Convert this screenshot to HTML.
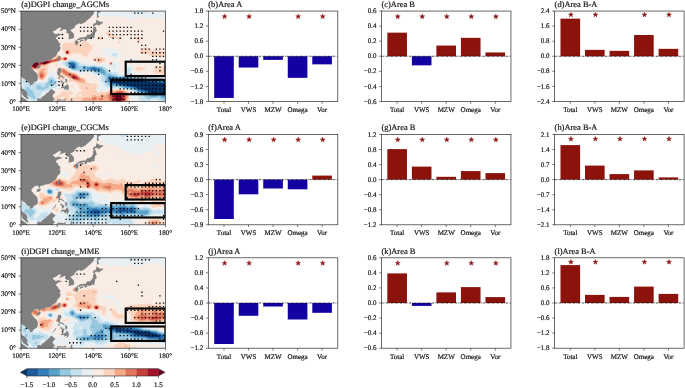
<!DOCTYPE html>
<html><head><meta charset="utf-8"><title>DGPI change</title>
<style>html,body{margin:0;padding:0;background:#fff;overflow:hidden}svg{display:block;will-change:transform;opacity:0.999}</style>
</head><body>
<svg width="685" height="388" viewBox="0 0 685 388" font-family='"Liberation Serif", serif' fill="#111" text-rendering="geometricPrecision" stroke="none">
<defs>
<clipPath id="clip0"><rect x="21" y="11.05" width="144.4" height="90.4"/></clipPath>
<clipPath id="clip1"><rect x="21" y="134.4" width="144.4" height="90.4"/></clipPath>
<clipPath id="clip2"><rect x="21" y="257.8" width="144.4" height="90.4"/></clipPath>
</defs>
<rect width="685" height="388" fill="#fff"/>
<text x="21.3" y="6.95" font-size="8.45" text-anchor="start" stroke="#111" stroke-width="0.18" >(a)DGPI change_AGCMs</text>
<g clip-path="url(#clip0)">
<rect x="20" y="10.2" width="146.4" height="92.2" fill="#e8f0f4"/>
<path d="M21,101.5L22.8,101.4L28.6,101.5L24.6,98.1L23.7,98.1L21.9,98.4L21,98.1ZM39.2,101.5L49.3,101.5L49.9,100.3L50.4,101.5L137.9,101.5L137.4,100.2L136.5,99.1L133.8,98.5L131.1,98.7L130.6,97.8L131.5,95.1L133,94.2L133.5,93.3L133.1,92.4L131.6,91.5L123.9,89.3L120.3,88.6L114.9,89L109.4,88.7L106.7,90.4L104,90.6L102.2,89.4L99.5,90.7L98.6,90.7L98,88.8L99,87L99.4,84.3L98.4,82.5L97.8,79.8L96,77.1L94.9,76.2L93.2,75.5L91.4,75.6L90.6,75.3L90.8,73.5L90.5,73.2L87.8,73.3L86,72.8L84.2,73.1L83.7,73.5L83.3,74.5L80.6,75.1L79.7,74.6L78.8,73.3L76.1,72L71.5,71.5L70.6,71L65.2,67.3L59.8,64.6L59.3,63.5L59.4,62.6L62.5,61.2L66.1,61.1L69.7,58.2L71.5,57.9L72.4,58L75.2,59.7L80.6,60.3L83.3,62.2L85.1,62.2L86.9,60.6L88.7,60.5L89.1,60.8L88.4,63.5L89.6,64.2L91.4,64.1L93.2,63.2L94.1,63.3L96.8,64.7L98.6,65L101.3,64.8L103.1,63.7L105.8,63.1L107.6,63.2L108.5,63.9L109.4,65.3L111.2,66.6L112.8,64.4L113,63.5L112.4,60.8L116.7,60.5L120.7,63.5L120.7,64.4L120.3,65.3L120.3,67.3L118.5,69L118.4,69.9L119.1,70.8L119.1,72.6L120.3,73.6L121.5,73.5L123.9,71.9L125.7,67.4L130.2,64.6L132,65.8L133.9,66.3L134.1,67.2L133.5,69L133.5,69.9L134.1,72.6L134.7,72.8L138.3,73.8L141.9,73.1L143.7,74.7L147.3,76.2L153.7,75.2L157.3,76L158.2,75.7L160,76.7L160.9,76.7L162.7,76.4L165.4,75.4L165.4,66.6L164.5,65.8L163.7,64.4L163.7,63.5L165.4,61.5L165.4,59.9L164.5,59L165.4,58.4L165.4,27.5L164.9,26.5L165.4,26.2L165.4,17.9L160,19.1L159.1,19L157.3,17.3L156.4,17.3L154.6,18.2L152.8,18.1L151,18.5L149.2,17.9L144.6,17.9L140.2,16.6L139.2,16.6L135.6,18.7L132,19.2L130.2,19.1L123,16.6L120.3,16.8L118.5,15.9L116.7,15.7L111.2,16.2L109.4,17.2L106.7,16.4L105.8,16.6L102.2,16.4L96.8,15.1L90.5,16.2L89.1,15.7L88.7,13.9L87.1,13L86.8,11.2L21,11.2L21,66.3L21.9,66.3L22.8,64.5L24.6,64.3L28.2,60.7L29.1,61.2L29.2,61.7L28.8,64.4L27.3,67.8L26.4,68.2L23.7,68.7L22.8,69.6L21.9,71.2L21,71.7L21,76.7L21.9,75.9L23.9,75.3L25.5,74L28.9,72.6L29.1,71.7L28.2,69.9L29.1,69.4L30,70.1L30.9,71.7L31.8,75.4L33.3,78.9L35.4,79.3L37.2,80.5L39,80.7L40.9,81.4L45.4,80.9L46.3,80.4L46.6,79.8L46.6,78L47.8,76.2L49.4,72.6L49.9,70.3L50.8,69.9L52.6,72.4L55.3,72.9L55.6,73.5L55.3,76.2L55.5,77.1L57.1,78.1L59.2,80.7L58.6,82.5L59.6,85.2L59.4,86.1L58,88.8L56.2,89.7L54.4,89.9L53.5,90.6L53.5,91.5L54.2,93.3L53.6,94.2L52.6,94.7L50.8,93.9L50.1,94.2L49,96L46.6,95.1L46.9,93.3L45,93.3L44,94.2L44.4,95.1L45.8,96L44.7,97.8L44.2,99.6L43.6,100.2L42.7,100.3L40.9,99.7L40,100.2ZM89.6,80.7L90.5,78.3L91.4,77.9L91.6,78.9L90.5,81.5ZM62.5,56.7L61.9,56.3L61.4,55.4L61.6,54.5L62.5,53.9L64.3,54.2L65.6,55.4L64.7,56.3ZM112.2,57.5L109.4,56.4L106.7,56.7L105.7,56.3L104.5,54.5L103.5,50.9L101.9,50L101.6,49.1L102.2,48.2L103.1,47.9L112.2,49.2L114,49L117.6,49.8L119,50.9L120,52.7L120.6,54.5L121.7,55.4L122.1,56.3L121.2,57.3L119.4,57.1L116.7,58L114,58.1ZM124.8,63.3L123.5,61.7L123.5,60.8L123.9,59.9L124.8,59.2L127.2,59L128.7,59.9L128.9,61.7L128.3,62.6L126.6,63.3ZM130.2,62.7L130,61.7L130.2,61.5L130.4,61.7ZM135.6,64.5L134.7,62.5L132,60.7L130.2,60.4L129.6,59L131.1,58.1L133.8,58.4L135.6,56.7L136.5,56.4L137.4,57L137.9,58.1L137.4,59L135.6,59.5L134.7,58.9L134,59.9L137.4,62.7L138,63.5L138.1,64.4L137.4,64.9ZM146.4,71.2L146.4,70.5L147.3,69.9L149.2,69.7L149,70.8L147.3,71.3ZM150.1,64L150.1,62.6L151,62.1L151.5,63.5L151,64.3ZM159.1,64L157.3,62.9L154.6,62.9L151.7,60.8L152.3,59.9L154.6,59.1L155.5,59L157.3,59.9L160.9,59.3L161.5,59.9L161.7,60.8L161.2,63.5L160.9,64L160,64.2Z" fill="#f9ece4" fill-rule="evenodd"/>
<path d="M53.3,101.5L57.7,101.5L59.7,99.6L60.3,97.8L62.5,96.5L63,96.9L63.9,98.7L65.9,99.6L65.8,101.5L128.7,101.5L128.9,97.8L130.5,93.3L130.2,92.4L128.8,91.5L123.9,89.9L120.3,89.3L111.2,90.2L109.4,90L107.6,91.7L106.7,92L104,92.1L102.2,91.5L101.3,91.5L98.6,93.1L97.7,92.9L95.7,89.7L95.9,88.8L97.8,86.1L97.7,85.2L96.8,84.2L95,83.5L93.2,84.3L92.1,83.4L87.8,82.7L86.9,81.8L86,79.2L85.1,78.2L80.6,76.9L76.1,73L70.6,71.9L64.3,67.8L59.8,67.3L58.1,68.1L56.5,69.9L56.5,70.8L58.3,74.4L58,75.3L58.9,78.1L59.8,78.9L62.5,80.2L63.6,79.8L64.3,77.8L65.2,77.2L66.1,77.3L67.4,78L68.3,78.9L68.7,79.8L68.4,81.6L68.8,82.2L70.6,82.1L72.4,81.4L76.1,82.5L76.7,84.3L78.8,84.5L79.5,85.2L79.1,87L79.3,87.9L81.6,89.7L82.4,91.5L79.7,91.7L77.9,93.8L75.9,94.2L76.5,96L76.1,96.6L73.3,97L71.5,98.9L70.6,99L69.7,98.6L68.9,96L69.1,95.1L69.7,94.5L71.5,94.7L72.7,94.2L72.8,93.3L71.5,91.7L70.6,90.7L68.8,91.3L68.5,91.5L68.8,92.6L67.9,93L67,92.8L66.7,91.5L66.1,91L64.3,90.9L63.4,91.1L61.6,93.1L60.7,93.3L58,95.5L55.3,96L54.9,97.8ZM78.8,96.6L78.1,96L78,95.1L78.8,94.2L80.8,94.2L82.1,95.1L81.5,96L80.6,96.7ZM83.3,94.5L82.9,94.2L83.3,93.8L83.6,94.2ZM131,101.5L131.1,101.5L132.3,101.5L132,101ZM71.5,87L72.4,87.4L73.1,87L72.4,86.6L71.5,86.9L71.4,86.1L69.7,85L69.5,86.1ZM94.8,80.7L95,81.5L95.9,81.1L96.1,80.7L95,80.3ZM39.5,79.8L41.8,80.5L44.4,79.8L45,78.9L47.1,75.3L47.6,73.5L47.9,68.1L48.7,66.3L48.6,65.3L49.1,64.4L50.9,63.5L53.5,63L55.3,63.2L55.8,62.6L57.9,61.7L62.5,60.4L64.3,60.8L66.1,60.7L67.3,59.9L67.9,59L68,58.1L67.6,57.2L66.1,56.6L62.5,57.5L61.6,57.1L59.8,55.2L58.9,54.7L56.2,54.9L55.3,55.4L53.6,58.1L52.2,59L48.1,59.6L44.5,58.7L40,60.8L34.5,60.1L31.4,61.7L30.6,62.6L30.2,63.5L29.7,67.2L30.1,68.1L31.8,69.4L37.7,70.8L36.3,73L34.7,74.4L34.6,75.3L36.3,75.4L37.7,78ZM160.6,74.4L163.6,74.5L165.4,74L165.4,68L164.5,67.7L162.7,66L159.1,67.4L157.3,65.6L156.4,65.4L155.5,65.7L155.1,66.3L154.6,69.1L153.6,70.8L153.4,72.6L154.6,73.6L159.1,73.8ZM136.3,69.9L138.3,70.5L140.1,70.4L141.9,69.7L144.6,69.2L145.6,68.1L144.6,67.5L142.8,67.8L139.2,67L137.4,67.1L135.7,68.1L135.5,69ZM55.8,66.3L56.2,66.8L57.3,66.3L57.1,64.9L56.2,64L55.2,64.4ZM109.6,64.4L110.3,65.1L111.2,65.2L112.3,64.4L112.6,63.5L112.4,62.6L111.3,61.8L110.3,61.8L109.5,62.6L109.2,63.5ZM96.7,62.6L97.7,63.2L100.4,63.3L104.9,61.3L105.7,60.8L106,59.9L105.5,59L104,57.8L99.5,56.7L97.7,56.8L94.1,57.6L93.2,58.1L92.8,59L92.9,59.9L93.6,60.8L95.9,61.9ZM84,56.3L86,57.1L86.9,56.8L87.8,55.4L88.2,53.6L91.3,50L92.3,48.2L92.4,46.4L92,45.5L90.5,44.7L88.7,42.8L86.9,41.6L85.1,40.9L84.2,40.9L81.5,42.8L80.6,42.9L78.8,42L75.2,41.8L71.5,42.9L69.7,42.6L66.1,43L62.1,44.6L61.7,45.5L63.1,50.9L65.1,53.6L67,55.1L69.7,55.3L74.2,53.5L79.7,53.4L81.5,53.8L82.4,55.4ZM151.7,56.3L158.2,56.3L160.9,56.9L162.7,56.7L164.2,55.4L164.7,53.6L163.6,52.2L161.8,51.2L157.3,50.3L152.8,50.6L147.3,47.8L145.5,47.3L143.7,47.7L141.9,48.8L140.2,50.9L140.1,52.7L141,53.5L143.7,54L145.5,53.9L148.3,54.2L149.2,54.5ZM93.4,45.5L94.2,45.5L94.5,44.6L94.1,43.9L93.2,44.1L92.9,44.6ZM117.6,42.8L118.5,43.3L119.4,43.4L120.6,42.8L121.3,41.9L120.3,41L119.4,41.1L118,41.9ZM137,41L139.2,41.3L140.1,41L140.8,40.1L140.5,38.3L139.2,37L138.3,36.7L137.4,36.8L136.5,37.5L135.9,39.2L136.1,40.1ZM98,39.2L99.5,39.6L101.3,39.5L102.6,38.3L102.6,37.4L102.2,36.9L100.4,36.3L98.6,36.5L97.6,37.4L97.3,38.3ZM116.9,39.2L118.5,39.6L119.4,39.5L120.4,38.3L120.1,37.4L118.5,36.4L116.7,36.7L115.8,36.3L114,34.9L111.4,33.8L111.2,32.9L110.2,32L107.6,31.9L105.4,32.9L105.6,33.8L107.4,34.7L108.1,35.6L108.3,36.5L109.1,37.4L111.2,38.1L114.9,38Z" fill="#fbd3bc" fill-rule="evenodd"/>
<path d="M81.4,100.5L83.7,101.5L126.9,101.5L128.7,93.3L128.2,92.4L123,90.3L120.3,90L115.8,90.4L114,91.1L109.4,91.9L104.9,95.4L104,95.5L102.2,94.4L101.3,94.5L98.6,96.8L97.7,96.8L95.9,95.4L93.2,94.7L91.9,96.9L90.5,98L89.6,98.1L86,97L84.2,98.3L82.4,98.7L81.6,99.6ZM85.8,88.8L86.9,89.4L87.8,89.1L87.8,87.9L86.9,87.2L85.8,87L85.2,87.9ZM80.1,82.5L83.3,83.1L84.2,82.9L85.1,81.6L85.1,80.7L84.2,79.5L80.6,78.1L75.2,73.7L70.6,72.8L64.3,68.8L62.5,68.5L60.7,68.7L59.8,69L58.9,69.9L59,70.8L60.3,72.6L62.5,73.8L64.3,75.3L67.9,76.7L74.2,80.3ZM39.9,78.9L40.9,79.5L41.8,79.5L43.3,78.9L45.9,75.3L46.2,74.4L45.9,73.5L44.5,72.6L44.1,71.7L45.5,69L45.4,67.6L43.6,68.9L40.9,69.3L38.2,73.5L38.7,77.1ZM33.7,69L36.3,69.3L39.4,68.1L40.7,66.3L41.8,65.6L44.5,65.9L49.9,63.3L52.6,62.5L55.3,62L62.5,59.5L64.3,60.4L66.1,60.4L67.4,59L67.4,58.1L66.3,57.2L65.2,57.1L62.5,58.3L58.9,56.2L57.1,56.8L55.7,58.1L53.8,59L50.4,59.9L44.5,60.2L40,61.4L34.5,60.9L31.6,62.6L31,63.5L30.7,65.3L30.8,67.2L31.4,68.1ZM110.1,64.4L111.2,64.9L112.2,63.8L111.9,62.6L111.2,62.2L109.9,62.6L109.7,63.5ZM99.9,61.7L100.4,61.8L101.3,61.3L102.7,59.9L100.4,58.8L99.5,58.7L98,59L97.2,59.9L97.8,60.8ZM65.7,53.6L67,54.4L67.9,54.4L69.3,53.6L69.6,52.7L69.7,49.7L67.9,49.7L66.1,50.4L65.3,51.8ZM75,43.7L76.1,44.4L77.2,43.7L76.1,43.4Z" fill="#f5a988" fill-rule="evenodd"/>
<path d="M110.1,101.5L125.3,101.5L126.4,97.8L126.3,93.3L125.5,92.4L123.9,91.4L120.3,90.7L116.7,91.4L114.9,92.3L110.3,93.5L108.6,95.1L108.1,97.8L108.3,98.7ZM91.5,99.6L92.3,100.2L93.2,100.2L95.9,99.4L96.5,98.7L95.9,97.5L94.7,96.9L92.1,98.7ZM99,99.6L100.4,100.1L103.1,100L103.3,98.7L102.3,97.8L101.3,97.8L98.7,98.7ZM75,79.8L79.7,80.4L80.6,80.3L80.9,79.8L77.9,76.5L75.2,74.7L69.7,73.2L66.1,71.3L64.3,69.8L62.5,69.5L61.4,69.9L61.2,70.8L61.6,71.2L65.2,74.2L68.8,75.9L71.5,77.9ZM40.4,78L41.8,78.4L42.7,78L44,76.2L44.1,75.3L43.6,74.4L41.8,72L40.9,72.3L39.7,74.4L39.6,76.2ZM32.7,68.1L34.5,68.7L36.3,68.7L38.1,67.5L39.8,65.3L40.9,64.9L44.5,64.7L47.2,64L51.7,62.3L59.8,60L61.1,59L60.7,58.1L58.9,57.1L58,57.4L56.2,58.7L51.7,60.2L45.4,60.6L40,61.9L36.3,61.2L34.5,61.3L32.3,62.6L31.4,64.4L31.5,67.2ZM110.9,64.4L111.4,64.4L112,63.5L111.2,62.5L110.3,62.8L109.9,63.5L110.3,64.2ZM63.9,59.9L65.2,60.3L66.1,60L67,59L66.8,58.1L66.1,57.5L65.2,57.4L63.5,58.1L63,59ZM66.2,53.6L67,54.1L68.5,53.6L69,52.7L68.9,51.8L67.9,50.8L67,50.6L65.6,51.8L65.6,52.7Z" fill="#df755d" fill-rule="evenodd"/>
<path d="M111.9,100.5L113.7,101.5L123.5,101.5L124.3,100.5L125,98.7L124.4,96.9L122.8,95.1L123,93.8L123.4,93.3L122.7,92.4L120.3,91.8L119.4,91.9L115.8,93.1L113.1,95.3L111.2,95.9L111.5,99.6ZM74.8,78.9L77,79.3L78.1,78.9L78.1,78L77.4,77.1L74.2,75.1L72.4,74.8L70.5,75.3L71.8,77.1ZM41.5,77.1L42.7,76.2L42.4,75.3L41.8,74.8L41.2,75.3L40.8,76.2ZM34,68.1L35.4,68.3L36.4,68.1L37.5,67.2L38.6,65.3L40.2,64.4L46.3,63.9L52.6,61.3L55.7,60.8L59.8,59L58.9,58.1L56.2,59.5L52.6,60.6L45.4,61L40,62.3L36.3,61.6L34.5,61.7L32.8,62.6L32.1,63.5L31.8,65.3L32.3,67.2ZM110.2,63.5L111.2,64.2L111.7,63.5L111.2,62.9ZM64.9,59.9L66.1,59.6L66.6,59L66.1,57.9L65.2,57.7L64.1,58.1L63.7,59ZM66.7,53.6L67.9,53.7L68.7,52.7L68.5,51.8L67.9,51.2L67,51.1L66,51.8L65.9,52.7Z" fill="#c53f3d" fill-rule="evenodd"/>
<path d="M114.3,100.5L115.5,101.5L121,101.5L123.4,99.6L123.7,98.7L123.5,97.8L121.7,96L120.3,93.8L119.4,93.3L117.6,93.4L115.7,94.2L113.5,96.9L113,98.7L113.3,99.6ZM75,78L76.4,78L76,77.1L74.2,76.1L73.3,75.9L72.7,76.2ZM33,67.2L35.4,67.8L36.8,67.2L37.8,65.3L40,63.9L45.4,63.7L48.1,63L50.6,61.7L49.9,61.4L46.3,61.2L43.6,61.7L40,63L36.3,61.8L34.5,62L33.3,62.6L32.3,64.4L32.3,66.3ZM110.8,63.5L111.2,63.8L111.4,63.5L111.2,63.3ZM64.1,59L65.2,59.6L66.2,59L65.7,58.1L65.2,58ZM66.2,52.7L67,53.6L67.9,53.3L68.4,52.7L67.9,51.6L67,51.3L66.4,51.8Z" fill="#a11228" fill-rule="evenodd"/>
<path d="M117.5,101.5L119.8,101.5L121.1,99.6L122.3,98.7L122.1,97.8L121.2,96.9L117.6,95.1L116.7,95.5L115,97.8L114.8,98.7L115.6,99.6L116.7,100ZM33.8,67.2L35.4,67.4L36,67.2L37.2,65.3L39.2,63.5L38.1,62.6L36.3,62.1L34.5,62.2L33.8,62.6L33,63.5L32.6,65.3L32.8,66.3ZM42.3,62.6L43.6,63.5L44.5,63.5L48.1,62.7L49,61.7L46.3,61.5ZM64.8,59L65.2,59.2L65.6,59L65.2,58.6ZM66.5,52.7L67,53.3L68.1,52.7L67.6,51.8L67,51.6Z" fill="#67001f" fill-rule="evenodd"/>
<path d="M31.6,100.5L32.6,101.5L37.3,101.5L38.5,99.6L38.9,97.8L40.2,96.9L40.8,96L41.9,92.4L42.7,91.9L45.4,91.8L48.1,90.4L49.9,90.3L50.8,89.7L51.7,88.3L54.7,87.9L57.1,86.5L57.6,85.2L56.8,80.7L56.2,79.5L54,78L53.5,76.5L52.6,76.1L49.9,76.7L48.3,78L47.5,80.7L46.3,82.1L41.8,83.1L39,82.4L37.2,82.8L34.5,82.2L32.7,82.6L31.8,82.6L30,81.6L29.1,80.7L28.9,79.8L30.2,77.1L30,75.2L29.1,75.2L28.2,76L26.4,76.3L23.5,78L22.2,80.7L21.4,81.6L21.6,82.5L23.1,83.4L23.5,84.3L23.4,87.9L22.8,88.7L21,89.4L21,91.6L21.9,92.2L23,95.1L23.7,95.9L25.5,96.1L27.2,97.8ZM139.7,100.5L140.9,101.5L143.7,100.9L144.6,101.5L147.4,101.5L148.3,100.9L150.1,100.9L151.9,99.8L152.8,99.8L156.4,100.1L159.1,101.3L165.4,101.5L165.4,78.9L162.7,78.9L159.1,78.3L154.6,77L147.3,77.4L144.6,76.9L140.1,75.3L137.4,75.9L135.6,74.9L132.9,75.8L131.1,75.6L130.4,75.3L130.4,74.4L131.2,69L131.1,68.1L130.2,67.5L128.4,67.8L127.4,69L126.8,70.8L127.2,74.4L126.6,74.9L125.7,75.3L122.1,75.1L120.3,75.4L119.3,75.3L117.6,73.5L115.2,71.7L114.9,70.9L114.7,71.7L114,72.6L113.1,72.7L111.2,71.3L109.4,71.3L107.7,69.9L106.7,68.2L104.2,67.2L103.1,66L97.7,66L94.1,65.1L88.7,65.6L85.1,64.2L82.4,64.5L81.5,64.1L78.8,62L71.5,59.6L69.7,59.7L66.1,61.5L63.4,62.1L62.3,62.6L62.2,63.5L64.2,65.3L67.5,68.1L69.7,69.1L71.5,70.5L75.2,70.8L77.9,71.6L79.7,71.4L81.5,72.1L86,71.3L90.5,71.6L93.1,72.6L94.1,73.5L95.9,74.2L101,75.3L101.7,76.2L101.8,77.1L100.8,78.9L100.8,80.7L101.4,81.6L103.2,82.5L103.9,83.4L103.4,85.2L105,86.1L106.7,87.8L110.3,87.5L114.9,88.2L120.3,88L132.9,91L134.9,92.4L135.6,94.9L136.5,95.3L138.3,95.4L139.1,96L138.8,98.7L139.2,100.1ZM113.5,66.3L114,67L114.9,67L115.2,66.3L114.9,64.7L114,64.7L113.5,65.3ZM113.6,56.3L114.9,56.7L116.7,56.3L117.2,55.4L117.2,54.5L116.7,53.7L115.8,53.1L114,52.9L112.5,53.6L112,54.5L112.4,55.4ZM137.8,13L140.1,13.1L142.8,12.6L145.5,12.8L150.1,11.9L151.3,11.2L129.5,11.2L130.2,12.6L132.9,12.3ZM124.7,12.1L125.7,11.9L126.3,11.2L123.6,11.2ZM118.9,11.2L120.3,11.5L121.6,11.2L121.2,11.2ZM162.9,11.2L163.6,11.3L163.7,11.2L163.6,11.2Z" fill="#c7e0ed" fill-rule="evenodd"/>
<path d="M163.5,100.5L164,101.5L165.4,101.5L165.4,80.3L159.1,79.7L155.5,78.3L146.4,78.4L141,77L133.8,77.5L128.4,76.4L118.5,76.3L116.7,75.4L112.5,74.4L110.3,73.1L108.5,73L107.1,71.7L105.4,69L101.3,67L96.8,66.7L94.1,66.1L88.7,66.5L85.1,65.7L82.4,66.3L79.6,66.3L78.8,65.3L78.3,63.5L77.2,62.6L74.2,61.2L72.4,60.7L68.8,60.9L65.8,62.6L65.4,63.5L65.6,64.4L67,65.6L68.1,67.2L72.4,69.9L77.9,70.4L79.7,70.2L82.4,70.9L86,70.3L90.5,70.7L94.1,71.5L97.7,73.5L101.3,74.1L105.2,77.1L105.4,78L105,80.7L105.6,82.5L108.5,85.5L109.4,85.8L113.1,86.8L120.3,87.3L125.7,88.6L130.2,89.2L135.1,90.6L138.3,92.9L140.1,93.3L141.9,94.2L144.3,96L145.8,97.8L147.9,98.7L149.2,99L151.9,98.1L158.2,97.7L159.1,97.8L161.3,99.6ZM33.3,98.7L34.5,99.3L35.4,99.1L35.8,97.8L33.2,91.5L32.7,90.7L30.9,89.8L29.1,87.5L27.3,86.7L23.9,91.5L23.9,92.4L24.5,93.3L27.3,95.6L30.9,97ZM35.8,96L36.3,96.1L36.5,96L36.3,95.8ZM38,89.7L40,89.8L41.8,90.3L46.3,88.8L47.5,87.9L47.9,87L49,86L54.4,84.7L54.9,84.3L55.4,82.5L55.3,81.5L54,79.8L52.6,78.9L50.8,78.3L49.9,78.5L49.3,78.9L47.8,82.5L45.7,84.3L44.5,87.1L43.6,87.4L42.7,87.2L40.3,85.2L39,84.8L37.2,84.9L36.3,85.5L36,87L37.2,89.4Z" fill="#97c8df" fill-rule="evenodd"/>
<path d="M162.3,97.8L163.6,98.3L165.4,98.1L165.4,81.5L163.6,81L159.1,80.6L155.5,79.3L149.2,79.2L146.4,79.5L141,78.1L139.2,78.5L134.7,78.6L128.4,77.3L117.6,77.2L114.9,76.2L109.4,74.9L108.3,75.3L107.7,76.2L107.7,77.1L106.6,79.8L106.7,81.1L107,81.6L112.2,85.3L113.1,85.6L118.5,86.1L125.7,87.9L130.2,88.1L135.6,89.9L138.3,91.5L141,92.4L142.8,93.6L146.7,94.2L148.7,95.1L150.1,96.7L155.5,96.7L159.1,95.8L160.9,96.5ZM29.1,93.3L29.1,93.4L29.2,93.3L29.1,93.3ZM49.8,83.4L52,82.5L52.6,81.6L52.4,80.7L51.7,80.2L50.8,80.2L50.4,80.7L49.7,82.5ZM104,74.4L105.5,74.4L105.6,73.5L104.2,69.9L101.5,68.1L100.4,67.7L96.8,67.4L94.1,66.7L88.7,67.2L85.1,67L83.3,67.5L81.8,69L83.3,69.7L86,69.4L87.8,69.9L90.5,70L94.1,70.7L97.7,72L101.3,72.9ZM72.1,69L73.3,69.3L75.2,69.2L76.1,69L76.9,68.1L76.5,63.5L75.5,62.6L73.3,61.6L69.7,61.7L68.4,62.6L68.1,63.5L68.3,64.4L69,66.3L69.7,67.2Z" fill="#5ba2cb" fill-rule="evenodd"/>
<path d="M151,95.1L155.5,95.6L158.2,94.4L159.1,94.4L162.7,95.7L165.4,95.3L165.4,82.4L161.8,81.4L159.1,81.4L155.5,80.2L146.4,80.3L141.9,79.1L139.2,79.5L134.7,79.2L127.5,77.9L122.1,77.6L117.6,78.1L114.9,77.3L110.3,77L109.4,77.3L108.4,78.9L108.2,80.7L113.1,84.4L115.8,84.6L122.1,85.9L125.7,87.1L130.2,87.2L136.5,89.3L138.3,90.5L141.9,91.9L145.5,92.3ZM92.4,69.9L97.7,70.7L100.4,69.9L100.2,69L99.5,68.7L94.1,67.3L89.7,68.1L88.6,69L90.5,69.1ZM71.7,68.1L72.4,68.4L74.2,68.4L75,68.1L75.5,67.2L75.7,65.3L75.2,63.5L73.3,62.4L70.8,62.6L69.9,63.5L69.8,65.3L70.1,66.3Z" fill="#337eb8" fill-rule="evenodd"/>
<path d="M151.8,94.2L154.6,94.6L158.2,93.4L163.6,94.3L165.4,93.7L165.4,83.4L161.8,82.1L159.1,82.2L155.5,81.2L145.5,81L141.9,79.9L139.2,80.2L134.7,79.7L127.5,78.5L122.1,78.2L117.6,78.8L114,78.1L112.2,78.2L110.3,78.5L109.4,79.8L109.8,80.7L113.1,83.2L120.3,84.9L123,85.1L125.7,86.3L129.3,86.4L134.7,87.6L141.9,90.8L143.7,90.8L145.5,91.3L148.3,92.9ZM92.2,69L94.1,69.4L95.7,69L94.1,67.9L92.8,68.1ZM71.7,67.2L72.4,67.7L73.3,67.8L74.4,67.2L74.7,66.3L74.4,64.4L73.3,63.3L72.4,63.2L71.6,63.5L71,64.4L70.8,65.3Z" fill="#1b5a9b" fill-rule="evenodd"/>
<path d="M152.1,93.3L154.6,93.5L158.2,92.6L163.6,92.9L164.9,92.4L165.4,92L165.4,84.4L161.8,82.9L159.1,83L156.4,82.3L151.9,81.9L144.6,81.7L141.9,80.7L140.1,80.9L134.7,80.2L128.4,79.1L122.1,78.7L116.7,79.5L114,79L111.6,79.8L111.6,80.7L112.2,81.6L114,82.5L120.3,84.2L123,84.4L125.7,85.6L130.2,85.9L135.6,86.8L139.2,88.5L146.4,90.6L149.2,92.3ZM72.4,66.3L72.4,66.3L72.7,66.3L72.4,66.2Z" fill="#053061" fill-rule="evenodd"/>
<path d="M19.2,9.4L94.1,9.4L94.1,11.2L93.7,13.9L91.8,16.1L90,17.9L86.9,20.6L84.7,22.6L80.9,24.2L79.3,23.3L77,24.4L76.1,25.1L74.8,26.5L74.6,27.8L72.4,29.1L70.6,30L70.5,30.7L72.1,31.8L73.9,34.1L74.2,36.5L73.7,37.9L72.3,38.5L70.6,38.8L68.8,39.4L68.5,38.3L69,36.5L68.5,35L69.2,33.6L67.4,33.2L66.1,32.9L66.7,31.6L66.5,30.2L65,29.2L63.4,29.6L61.1,30.7L59.4,31.4L60,30.2L61.1,28.5L60.3,27.6L58.9,27.8L56.2,29.8L54.4,30.9L52.9,31.2L53.1,32.5L55.1,33.8L55.8,34.5L58.4,33.2L60,33.9L61.8,34.1L61.4,35L58.9,35.6L57.6,36.3L55.8,37.9L55.8,38.8L57.6,39.7L58.5,41.9L60.3,43.7L60.5,45.1L59.1,46.2L60.7,47.3L60.3,48.7L60,50.4L58.4,51.6L57.1,53.4L56.4,55.4L54.8,56.9L53.5,57.6L52,58.9L50.8,59.9L49,60.5L46.8,61L45.5,60.8L44.8,61.7L42.7,62.1L40.9,62.6L40,63.2L39.8,64.6L38.9,64.6L38.7,62.8L37.2,62.5L36,62.5L34.4,63L33.1,64.4L31.8,65.7L31.3,67.3L32.6,69L34,70.8L35.8,72.4L37.1,73.8L37.8,76.4L37.8,78.9L37.4,80.5L35.8,81.6L34,82.5L33.3,83L32.9,84.3L30.9,85.2L29.8,85.7L29.8,83.8L29.3,82.7L27.5,82.3L26.4,80.9L25.2,79.4L23.9,78.5L22.6,78.5L22.6,77.3L19.2,77.3ZM19.2,84.7L21.2,86.1L21.7,87.9L22.4,88.8L23.9,89.2L25,90.3L26.4,91.5L27.1,92.8L27.3,94.2L27.1,96L28,97.5L28.6,98.7L28.2,99.1L27.3,99.1L25.9,98L24.2,96.8L23.3,96L22.4,94.6L21.7,92.8L21.5,91.2L19.2,90.1ZM19.2,95.7L21,96.6L22.4,97.5L23.9,98.2L25,99.3L26.4,100L27.7,101.1L27.9,103.3L19.2,103.3ZM37.2,103.3L37.1,99.6L37.8,98.2L39.6,98.4L41.2,98.7L41.6,97.1L43.6,96L45,95.1L46.3,93.5L47.7,92.6L49,91.5L50.2,90.1L51.3,88.8L52.8,89.9L53.9,91L55.7,92.1L54,93.5L52.9,95L52.6,96.4L53.5,97.5L55.1,99.5L53.5,99.8L52.9,103.3ZM58.2,68.1L61.1,68.2L61.4,70.2L60.7,72.2L60,72.9L60.2,75.6L61.8,75.8L63.1,76.5L64.5,78L64.3,78.7L63.2,78L61.8,76.9L60.3,76.7L58.9,76.7L58.4,75.8L58.7,75.1L57.5,74.7L56.9,72.6L57.6,71.5L57.8,69.9ZM57.8,77.3L59.3,77.3L59.8,78.7L59.3,79.4L58.5,78.7ZM52,86.3L53.9,84.8L55.8,82.9L56.4,81.2L55.8,81.2L54.6,83L52.8,85ZM60.5,80.2L62.3,80.7L62.7,81.4L61.8,82.5L60.7,82.5ZM61.6,83.4L62.9,81.8L63.6,82L64.3,81.2L64.3,83L63.1,85L62.3,85ZM64.9,78.9L66.7,78.9L67.4,81.1L66.5,82.9L65.8,83L65.4,81.2ZM60.5,88.8L61.1,87.2L62.5,86.1L64,86.6L65.6,85.9L66.8,83.9L68.1,84.8L68.8,87L68.7,89L68.1,90.1L67.2,90.4L66.8,91.3L66.5,90.6L67,89.2L66.5,88.8L64.7,90.1L64.3,88.8L63.2,87.9L61.6,88.3ZM58.9,56L60.5,56.3L60,58.1L59.4,60.3L58.5,61.7L57.6,60.7L57.3,59.4L58,57.6ZM36.7,66.8L37.8,65.5L40.1,65.2L40.9,66.1L40,67.5L38.3,68.6L36.7,68.1ZM93.2,26.5L93,24.7L93.9,23.5L95.7,23.3L96.3,21.1L96.4,19.5L98.4,20.9L100.8,22L102.8,21.5L102.9,23.3L101.3,23.8L99.5,25.3L99,25.6L96.8,24.7L95,24.9L95.2,26L93.9,26.5ZM93.7,26.9L95.7,26.7L95.9,28.5L96.8,30.2L96.1,32.1L95,32.5L95,34.7L94.3,36.1L94.8,37L93.9,37.9L93,38.5L92.8,37.4L91.8,37.9L91.2,39L90,39L88.3,39L87.6,38.3L87.1,39.2L87.6,39.5L86.5,40.3L85.6,41L84.4,40.3L84.5,39L82.9,38.8L80.9,39.4L79.1,40.1L77,40.1L76.8,39.4L78.4,38.8L80,37.6L81.5,37.4L83.3,37.2L84.7,37L86,37L86.3,35.9L87.4,34.8L88.3,33.8L87.8,34.8L88.9,34.7L90.7,33.9L92.1,32.5L93,30.7L93.2,29.2L93,28.2ZM79.5,41.3L80.4,42.2L81.6,41L82.7,41.3L83.6,40.4L83.1,39.5L81.6,39.7L80.2,40.3ZM74.6,41.3L75.9,40.4L77,40.3L78.2,41L78.6,42.2L77.7,44.6L76.6,45.3L75.5,45L75.7,43.3L74.8,42.4ZM96.8,9.4L97.2,13L96.8,14.8L97,16.6L96.6,18.4L97.9,17.2L99.3,17L98.6,15.7L97.9,14.8L99,12.6L100.4,12.6L100.4,9.4ZM56.7,103.3L57.1,99.8L58.5,99.1L60.7,99.5L63.4,99.8L65.4,98.9L66.5,98.6L65.9,99.8L64.9,100.7L62.5,100.5L59.8,100.5L58,100.5L57.5,103.3ZM70.5,103.3L70.6,99.6L71.4,97.5L72.1,98.6L72.8,98.7L71.7,99.8L72.8,100.9L71.9,103.3Z" fill="#808080"/>
<path d="M134.1,12.4h1.3v1.3h-1.3zM137.7,12.4h1.3v1.3h-1.3zM141.3,12.4h1.3v1.3h-1.3zM152.1,12.4h1.3v1.3h-1.3zM108.8,26.8h1.3v1.3h-1.3zM112.4,26.8h1.3v1.3h-1.3zM116,26.8h1.3v1.3h-1.3zM119.6,26.8h1.3v1.3h-1.3zM123.2,26.8h1.3v1.3h-1.3zM126.8,26.8h1.3v1.3h-1.3zM130.5,26.8h1.3v1.3h-1.3zM79.9,26.8h1.3v1.3h-1.3zM83.5,26.8h1.3v1.3h-1.3zM87.1,26.8h1.3v1.3h-1.3zM90.7,26.8h1.3v1.3h-1.3zM108.8,30.4h1.3v1.3h-1.3zM112.4,30.4h1.3v1.3h-1.3zM116,30.4h1.3v1.3h-1.3zM119.6,30.4h1.3v1.3h-1.3zM123.2,30.4h1.3v1.3h-1.3zM126.8,30.4h1.3v1.3h-1.3zM130.5,30.4h1.3v1.3h-1.3zM134.1,30.4h1.3v1.3h-1.3zM137.7,30.4h1.3v1.3h-1.3zM141.3,30.4h1.3v1.3h-1.3zM162.9,30.4h1.3v1.3h-1.3zM79.9,30.4h1.3v1.3h-1.3zM83.5,30.4h1.3v1.3h-1.3zM87.1,30.4h1.3v1.3h-1.3zM90.7,30.4h1.3v1.3h-1.3zM108.8,34h1.3v1.3h-1.3zM112.4,34h1.3v1.3h-1.3zM116,34h1.3v1.3h-1.3zM119.6,34h1.3v1.3h-1.3zM123.2,34h1.3v1.3h-1.3zM126.8,34h1.3v1.3h-1.3zM130.5,34h1.3v1.3h-1.3zM134.1,34h1.3v1.3h-1.3zM137.7,34h1.3v1.3h-1.3zM141.3,34h1.3v1.3h-1.3zM61.9,34h1.3v1.3h-1.3zM98,37.6h1.3v1.3h-1.3zM101.6,37.6h1.3v1.3h-1.3zM112.4,37.6h1.3v1.3h-1.3zM119.6,37.6h1.3v1.3h-1.3zM130.5,37.6h1.3v1.3h-1.3zM134.1,37.6h1.3v1.3h-1.3zM137.7,37.6h1.3v1.3h-1.3zM141.3,37.6h1.3v1.3h-1.3zM58.3,37.6h1.3v1.3h-1.3zM61.9,37.6h1.3v1.3h-1.3zM90.7,37.6h1.3v1.3h-1.3zM137.7,41.2h1.3v1.3h-1.3zM141.3,44.8h1.3v1.3h-1.3zM144.9,44.8h1.3v1.3h-1.3zM79.9,44.8h1.3v1.3h-1.3zM141.3,48.5h1.3v1.3h-1.3zM144.9,48.5h1.3v1.3h-1.3zM148.5,48.5h1.3v1.3h-1.3zM155.7,48.5h1.3v1.3h-1.3zM159.3,48.5h1.3v1.3h-1.3zM162.9,48.5h1.3v1.3h-1.3zM141.3,52.1h1.3v1.3h-1.3zM144.9,52.1h1.3v1.3h-1.3zM152.1,52.1h1.3v1.3h-1.3zM155.7,52.1h1.3v1.3h-1.3zM159.3,52.1h1.3v1.3h-1.3zM162.9,52.1h1.3v1.3h-1.3zM152.1,55.7h1.3v1.3h-1.3zM155.7,55.7h1.3v1.3h-1.3zM159.3,55.7h1.3v1.3h-1.3zM162.9,55.7h1.3v1.3h-1.3zM94.4,59.3h1.3v1.3h-1.3zM98,59.3h1.3v1.3h-1.3zM130.5,59.3h1.3v1.3h-1.3zM152.1,59.3h1.3v1.3h-1.3zM155.7,59.3h1.3v1.3h-1.3zM43.8,62.9h1.3v1.3h-1.3zM69.1,62.9h1.3v1.3h-1.3zM159.3,62.9h1.3v1.3h-1.3zM69.1,66.5h1.3v1.3h-1.3zM72.7,66.5h1.3v1.3h-1.3zM83.5,66.5h1.3v1.3h-1.3zM155.7,66.5h1.3v1.3h-1.3zM159.3,66.5h1.3v1.3h-1.3zM79.9,70.1h1.3v1.3h-1.3zM83.5,70.1h1.3v1.3h-1.3zM87.1,70.1h1.3v1.3h-1.3zM90.7,70.1h1.3v1.3h-1.3zM94.4,70.1h1.3v1.3h-1.3zM98,70.1h1.3v1.3h-1.3zM108.8,70.1h1.3v1.3h-1.3zM159.3,70.1h1.3v1.3h-1.3zM69.1,73.7h1.3v1.3h-1.3zM98,73.7h1.3v1.3h-1.3zM130.5,73.7h1.3v1.3h-1.3zM72.7,77.3h1.3v1.3h-1.3zM108.8,77.3h1.3v1.3h-1.3zM112.4,77.3h1.3v1.3h-1.3zM116,77.3h1.3v1.3h-1.3zM119.6,77.3h1.3v1.3h-1.3zM123.2,77.3h1.3v1.3h-1.3zM126.8,77.3h1.3v1.3h-1.3zM130.5,77.3h1.3v1.3h-1.3zM134.1,77.3h1.3v1.3h-1.3zM137.7,77.3h1.3v1.3h-1.3zM141.3,77.3h1.3v1.3h-1.3zM144.9,77.3h1.3v1.3h-1.3zM25.8,80.9h1.3v1.3h-1.3zM58.3,80.9h1.3v1.3h-1.3zM105.2,80.9h1.3v1.3h-1.3zM112.4,80.9h1.3v1.3h-1.3zM116,80.9h1.3v1.3h-1.3zM119.6,80.9h1.3v1.3h-1.3zM123.2,80.9h1.3v1.3h-1.3zM126.8,80.9h1.3v1.3h-1.3zM130.5,80.9h1.3v1.3h-1.3zM134.1,80.9h1.3v1.3h-1.3zM137.7,80.9h1.3v1.3h-1.3zM141.3,80.9h1.3v1.3h-1.3zM144.9,80.9h1.3v1.3h-1.3zM148.5,80.9h1.3v1.3h-1.3zM152.1,80.9h1.3v1.3h-1.3zM155.7,80.9h1.3v1.3h-1.3zM159.3,80.9h1.3v1.3h-1.3zM162.9,80.9h1.3v1.3h-1.3zM51,84.6h1.3v1.3h-1.3zM58.3,84.6h1.3v1.3h-1.3zM61.9,84.6h1.3v1.3h-1.3zM116,84.6h1.3v1.3h-1.3zM119.6,84.6h1.3v1.3h-1.3zM123.2,84.6h1.3v1.3h-1.3zM126.8,84.6h1.3v1.3h-1.3zM130.5,84.6h1.3v1.3h-1.3zM134.1,84.6h1.3v1.3h-1.3zM137.7,84.6h1.3v1.3h-1.3zM141.3,84.6h1.3v1.3h-1.3zM144.9,84.6h1.3v1.3h-1.3zM148.5,84.6h1.3v1.3h-1.3zM152.1,84.6h1.3v1.3h-1.3zM155.7,84.6h1.3v1.3h-1.3zM159.3,84.6h1.3v1.3h-1.3zM162.9,84.6h1.3v1.3h-1.3zM119.6,88.2h1.3v1.3h-1.3zM123.2,88.2h1.3v1.3h-1.3zM126.8,88.2h1.3v1.3h-1.3zM130.5,88.2h1.3v1.3h-1.3zM134.1,88.2h1.3v1.3h-1.3zM137.7,88.2h1.3v1.3h-1.3zM141.3,88.2h1.3v1.3h-1.3zM144.9,88.2h1.3v1.3h-1.3zM148.5,88.2h1.3v1.3h-1.3zM152.1,88.2h1.3v1.3h-1.3zM155.7,88.2h1.3v1.3h-1.3zM159.3,88.2h1.3v1.3h-1.3zM162.9,88.2h1.3v1.3h-1.3zM130.5,91.8h1.3v1.3h-1.3zM134.1,91.8h1.3v1.3h-1.3zM137.7,91.8h1.3v1.3h-1.3zM141.3,91.8h1.3v1.3h-1.3zM144.9,91.8h1.3v1.3h-1.3zM148.5,91.8h1.3v1.3h-1.3zM152.1,91.8h1.3v1.3h-1.3zM155.7,91.8h1.3v1.3h-1.3zM159.3,91.8h1.3v1.3h-1.3zM162.9,91.8h1.3v1.3h-1.3zM101.6,95.4h1.3v1.3h-1.3zM112.4,95.4h1.3v1.3h-1.3zM116,95.4h1.3v1.3h-1.3zM119.6,95.4h1.3v1.3h-1.3zM123.2,95.4h1.3v1.3h-1.3zM112.4,99h1.3v1.3h-1.3zM116,99h1.3v1.3h-1.3zM119.6,99h1.3v1.3h-1.3zM123.2,99h1.3v1.3h-1.3z" fill="#000"/>
<rect x="111.2" y="79.8" width="54.2" height="14.4" fill="none" stroke="#000" stroke-width="2.15"/>
<rect x="125.7" y="61.7" width="39.7" height="14.4" fill="none" stroke="#000" stroke-width="2.15"/>
</g>
<rect x="21" y="11.05" width="144.4" height="90.4" fill="none" stroke="#2a2a2a" stroke-width="0.7"/>
<line x1="18.6" y1="11.2" x2="21" y2="11.2" stroke="#2a2a2a" stroke-width="0.6"/>
<text x="15.8" y="13.4" font-size="7.0" text-anchor="end" stroke="#111" stroke-width="0.18" >50°N</text>
<line x1="18.6" y1="29.25" x2="21" y2="29.25" stroke="#2a2a2a" stroke-width="0.6"/>
<text x="15.8" y="31.45" font-size="7.0" text-anchor="end" stroke="#111" stroke-width="0.18" >40°N</text>
<line x1="18.6" y1="47.3" x2="21" y2="47.3" stroke="#2a2a2a" stroke-width="0.6"/>
<text x="15.8" y="49.5" font-size="7.0" text-anchor="end" stroke="#111" stroke-width="0.18" >30°N</text>
<line x1="18.6" y1="65.35" x2="21" y2="65.35" stroke="#2a2a2a" stroke-width="0.6"/>
<text x="15.8" y="67.55" font-size="7.0" text-anchor="end" stroke="#111" stroke-width="0.18" >20°N</text>
<line x1="18.6" y1="83.4" x2="21" y2="83.4" stroke="#2a2a2a" stroke-width="0.6"/>
<text x="15.8" y="85.6" font-size="7.0" text-anchor="end" stroke="#111" stroke-width="0.18" >10°N</text>
<line x1="18.6" y1="101.45" x2="21" y2="101.45" stroke="#2a2a2a" stroke-width="0.6"/>
<text x="15.8" y="103.65" font-size="7.0" text-anchor="end" stroke="#111" stroke-width="0.18" >0°</text>
<line x1="21" y1="101.45" x2="21" y2="103.85" stroke="#2a2a2a" stroke-width="0.6"/>
<text x="21" y="111.45" font-size="7.0" text-anchor="middle" stroke="#111" stroke-width="0.18" >100°E</text>
<line x1="57.1" y1="101.45" x2="57.1" y2="103.85" stroke="#2a2a2a" stroke-width="0.6"/>
<text x="57.1" y="111.45" font-size="7.0" text-anchor="middle" stroke="#111" stroke-width="0.18" >120°E</text>
<line x1="93.2" y1="101.45" x2="93.2" y2="103.85" stroke="#2a2a2a" stroke-width="0.6"/>
<text x="93.2" y="111.45" font-size="7.0" text-anchor="middle" stroke="#111" stroke-width="0.18" >140°E</text>
<line x1="129.3" y1="101.45" x2="129.3" y2="103.85" stroke="#2a2a2a" stroke-width="0.6"/>
<text x="129.3" y="111.45" font-size="7.0" text-anchor="middle" stroke="#111" stroke-width="0.18" >160°E</text>
<line x1="165.4" y1="101.45" x2="165.4" y2="103.85" stroke="#2a2a2a" stroke-width="0.6"/>
<text x="165.4" y="111.45" font-size="7.0" text-anchor="middle" stroke="#111" stroke-width="0.18" >180°</text>
<text x="21.3" y="130.3" font-size="8.45" text-anchor="start" stroke="#111" stroke-width="0.18" >(e)DGPI change_CGCMs</text>
<g clip-path="url(#clip1)">
<rect x="20" y="133.6" width="146.4" height="92.2" fill="#e8f0f4"/>
<path d="M27.2,224.8L27.3,224.8L34.9,224.8L34,223.9L33.9,223L33.2,222.1L30,221.6L29.1,220.9L28.2,220.7L27.3,221.2L27.5,222.1L29.2,223ZM38.4,224.8L39,224.8L41.1,224.8L40.9,223.9L40,223.7L39,224.1ZM56.7,224.8L57.1,224.8L63.6,224.8L62.4,223L62.1,221.2L60.7,220.8L59.8,221.1L57.5,223ZM83.6,224.8L84.2,224.8L87.3,224.8L86.9,223.9L86,222.9L85.1,223.1ZM136.7,223.9L137.8,224.8L165.4,224.8L165.4,218.2L163.6,218.2L160.9,216.5L159.1,216.2L157.3,215.3L156.4,215.3L154.6,216.3L151,216.4L149.2,216.9L147.3,218.2L146.4,218.4L144.6,218.3L142.8,219L139.2,218.9L137.5,219.4L135.6,222.1L135.7,223ZM21,214.9L21.5,214L21,211.9L21,212.2ZM55.6,214L58,214.2L59.2,212.2L61.6,210.8L62.5,211.3L63.4,211.1L64.3,211.4L65.2,212.1L66.1,211.9L66.3,211.3L65.9,209.5L65.2,208.3L64.3,207.7L62.5,208.1L60.4,205.8L60.3,204.9L60.7,204.3L61.6,204L62.5,204.2L63.4,203.6L64.9,199.5L64.3,197.8L62.3,195.9L60.5,193.2L64.3,192.4L67,192.7L71.3,192.3L73.7,191.4L75.2,189L77.9,188.5L81.5,189.6L86,189.3L90.5,190.7L92.3,190.5L96.8,193.8L97.7,194L99.5,193.1L100.4,193.4L101.3,194.1L101.5,195L101.8,197.7L101.1,199.5L101.3,200.5L103.1,200.3L104.2,199.5L104.6,198.6L102.8,196.8L103.1,195L104,194.1L107.6,194.4L108.6,195L107.9,196.8L108.3,198.6L110.1,202.2L111.2,202.9L115.8,202.5L117.6,200L119.4,200.4L121.2,200.1L122.1,199.8L123,198.6L123.9,198.4L127.8,199.5L131.1,200.9L133.8,201.2L137.4,202.3L138.3,203.2L139.2,205.5L140.1,206.2L141.9,206.2L143.7,204L145.5,204L147.3,204.4L150.1,206.3L152.4,208.6L154,209.5L154.9,209.5L157.3,208.2L161.8,208.4L163.6,207.9L165.4,206.6L165.4,142.3L163.6,142.4L162.7,142.9L160.9,145.4L160,145.3L159.4,144.5L159.1,142.4L158.4,142.7L157.3,144L155.7,144.5L155.3,146.3L152.8,149.4L150.3,151.7L147.3,151.8L144.6,152.5L139.9,155.3L138.3,155.5L132.9,152.5L132,152.7L131.1,154.8L130.2,154.4L129.3,153.4L126.6,152.9L126,152.6L125.5,150.8L124.8,149.9L123,149.8L119.9,149L120.1,147.2L119.4,146.2L117.8,145.4L116.7,146L115.8,145.7L114,144.2L113.1,144.2L111.2,145.4L109.4,144.1L104.9,143.7L105.5,141.8L102.6,140L101.3,139.3L97.7,138.4L95,138.6L91.4,137.6L90.6,137.3L90.1,136.4L89.7,135.5L89.9,134.6L86,134.6L86.9,135L88.7,135L89.3,135.5L89.1,136.4L88.3,137.3L86,138.8L84.2,137.8L81.5,138.7L79.7,138.2L78,138.2L77.7,137.3L75.3,134.6L21,134.6L21,198.3L23.7,199.4L25.5,199.7L28.2,198.5L30,200.6L35.4,200.6L36.3,200.9L36.8,201.3L36.8,202.2L35.9,204L35.8,205.8L36.3,207.4L39,210.5L40,209.8L40.9,208L41.8,207.4L43.8,207.7L44.5,208.3L45.7,207.7L49.9,207.5L50.9,206.8L51.7,205L52.4,206.8L51.5,208.6L51.4,212.2L52.6,212.8L53.5,212.7L54.4,213ZM66.1,177.1L61.3,175.2L59.6,172.5L59.7,171.6L61.6,170.9L63.4,171.4L65.2,171L67.9,172.4L68.3,173.4L68.2,175.2L67,176.8ZM90.5,144.8L87.7,142.7L88.7,140.8L89.6,140.2L90.5,140.7L91.5,143.6L91.4,144.7ZM106.7,175.2L105.8,174.3L107.8,173.4L110.3,173.3L111.4,174.3L110.3,175.3L108.5,175.5ZM115.8,197.2L115.5,196.8L115.8,195.9L117.6,195.2L117.9,195.9L117.4,196.8L116.7,197.4ZM119.4,157.5L118.3,156.2L118.5,154.9L119.4,153.1L120.3,153.3L120.5,154.4L120.3,157.3ZM132.9,157.2L132,156.6L132,155.8L132.9,155.6L134.7,156.2L134.6,157.1ZM153.7,167.2L152.2,166.1L152,165.2L152.8,164.2L156.4,164L158.2,165.2L158,166.1L157.3,166.6ZM24.6,185.4L24.5,185.1L24.6,185L24.7,185.1ZM26.4,193.3L25.6,192.3L25.8,191.4L27.2,189.6L28.9,188.7L30,189.1L30.8,190.5L30.1,191.4ZM30.9,198.8L29.1,198.2L28.7,197.7L29.1,196.9L30.4,196.8L32.2,198.6L31.8,199.1ZM36.3,187L35.4,186.8L34.5,186L34.5,185.1L35.4,182.9L36.3,182.3L38.1,184.3L40.3,184.2L38.9,186.9L38.1,187.3ZM49,195.1L47.2,194.4L46.3,193.6L44.7,190.5L44.8,189.6L47.2,187.5L48.1,187.4L55.3,188.5L58,188L59.3,188.7L59.7,189.6L58.9,191L57.1,191.2L55.3,190.7L54.8,191.4L54.7,195L54.4,195.5L53.5,195.8ZM117.6,147.8L117.4,147.2L117.6,146.5L117.8,147.2ZM156.4,154.6L155.6,153.5L155.5,152.6L155.8,151.7L157.3,150.3L158.2,150.1L160,151.5L160.8,152.6L160.8,153.5L159.4,154.4L157.3,154.9ZM47.2,160L47,159.8L47.2,159.7L47.3,159.8Z" fill="#f9ece4" fill-rule="evenodd"/>
<path d="M147,224.8L158.1,224.8L160,224.3L160.6,224.8L163.3,224.8L163.6,222.1L159.1,218.6L153.7,218.6L149.2,219.5L147.5,220.3L147.3,221.2L147.6,222.1ZM55.9,211.3L56.2,211.7L57.1,211.9L58,211.3L58.6,210.4L58.5,209.5L58,208.8L54.1,208.6L53.9,209.5ZM153,207.7L154.6,208.1L156.4,206.9L157.3,206.8L161.8,206.8L165.4,205.2L165.4,202.6L164.5,202.7L163.6,202.3L163.5,201.3L164.3,200.4L165.4,200L165.4,184.8L164.9,184.2L165.4,183.1L165.4,180.3L163.6,180.5L161.8,182L160.9,181.3L160.4,179.7L159.1,178.7L157.3,178.5L151,178.6L149.2,181L148.3,181.4L146.4,181.3L141.9,183L141.6,183.3L141,185.3L140.1,186.3L138.3,185.5L137.4,185.4L136.5,184.2L137.4,183.3L139.2,183.1L141,182.1L141.3,180.6L140.1,179.7L139.2,179.5L137.4,180.2L135.6,181.9L133.8,181.1L132.5,181.5L132.2,182.4L132.7,184.2L132.5,185.1L132,185.4L130.2,185.1L129.8,184.2L130.6,182.4L130.2,181.8L129.3,181.4L127.5,181.4L123,178.5L121.2,178.6L118.5,180.4L117.6,180.6L115.8,179.5L114,179.8L112.2,178.3L111.2,178.1L108.5,178.9L104.9,180.6L103.1,180.8L101.3,178.9L98.6,177.4L96.8,177.5L95.7,177L94.5,173.4L94.6,172.5L97.7,170.2L98.5,168.8L98.5,167.9L97.5,166.1L95.9,164.7L94.1,164.4L90.5,165.1L83.3,164.6L79.7,165.6L77.9,167.5L76.7,165.2L76.1,164.7L74.2,164.5L73,165.2L72.5,166.1L72.6,167L74.2,168.6L76.1,168.6L77,167.8L77.2,167.9L77,168.8L75.7,170.7L75.2,173.4L72.4,176.8L70.6,178.2L69.7,179.7L68.8,180.3L67.9,180.4L60.7,178.5L57.1,178.3L53.5,178.5L49.9,179.3L49.5,179.7L48.9,181.5L47.5,183.3L47.2,184.2L51.7,186.7L53.5,186.8L55.3,187.4L59.2,187.8L61.6,189.6L64.3,189.1L66.1,189.6L69.7,189.4L71.5,189.9L72.4,189.5L74.2,187.7L77,186.5L81.5,188.2L83.3,188.3L85.1,187.9L89.6,189.1L92.3,188.8L93.9,189.6L95.9,191.2L97.7,191.8L100.4,191.4L102.2,192.2L104.9,191.8L110.3,192.9L111.2,192.7L113.1,191.4L115.8,191L117.6,191.5L119.4,191.4L122.5,194.1L123.1,195.9L124.8,197.3L132,199.3L134.7,199.1L136.5,200L139.2,200.6L141,202.9L142.8,202.3L145.1,202.2L145.2,201.3L144.4,199.5L144.6,199.3L146.4,199.5L148.3,200.6L150.1,200.4L151,200.7L152.3,202.2L151,203.5L150.9,204.9L152,206.8ZM154.6,201.5L153.7,199.5L154.4,198.6L155.5,198.1L156.4,198L159.6,198.6L160.7,199.5L161.1,200.4L161.1,201.3L160.9,201.5L157.3,200.9ZM38,204.9L41.8,205.7L45.4,205.6L47.2,204.5L49,204L50.8,202.6L54.4,201.9L56.2,200.8L56.8,199.5L58.5,197.7L58.1,196.8L57.1,196L56.2,196.2L55.5,196.8L55.3,199.4L54.4,199.1L53,196.8L51.7,196L46.3,195.1L44.5,193.8L42.7,193.2L41.8,192.5L40.9,192.5L39.8,193.2L39.2,195.9L39.2,196.8L40.4,198.6L40.6,199.5L38.2,203.1L37.8,204ZM61.2,199.5L61.6,200.2L62.5,200.1L62.9,198.6L61.6,196.8L60.7,196.1L60.1,196.8L60.6,198.6ZM21,195.9L21,196.4L21.9,196.1L23.3,195L23.5,194.1L22.8,190.5L21.9,190.7L21,191.6ZM66.6,190.5L67,191.2L68.2,190.5L67.9,189.9L67,189.6Z" fill="#fbd3bc" fill-rule="evenodd"/>
<path d="M149.8,223.9L150.2,224.8L155.7,224.8L159.2,222.1L159.4,221.2L158.2,220.6L154.6,220.3L151,221.1L149.7,222.1ZM153.6,205.8L153.7,205.9L154.2,205.8L153.7,205.6ZM156.5,204.9L158.2,205.3L159.2,204.9L159.5,204L159,203.1L157.3,202.5L156.6,203.1L156.3,204ZM40.3,204L41.8,204.7L43.6,204.8L45.3,204L46.3,203.1L48.4,202.2L49.9,200.2L51.7,200.1L52.3,197.7L51.9,196.8L50.8,196.3L48.1,196.5L47.3,196.8L46.6,197.7L46.3,199.2L45.8,197.7L44.5,196.9L43.6,197.1L43.2,197.7L43.2,199.5L40.9,201.2L40.1,202.2L39.9,203.1ZM56.9,198.6L57.9,197.7L57.1,196.4L56.2,196.8L55.7,197.7L56.2,198.5ZM136.4,198.6L137.4,198.9L139.2,198.3L143.7,197.7L148.3,198.5L151,197.6L155.5,196.9L160,197.1L162.7,198.3L165.4,198.1L165.4,187.1L163.6,186.5L162.7,186.5L160,188L158.2,188.1L157.3,186.9L155,186L154.6,183.7L153.7,183.5L151.9,184.3L149.2,184.9L147.3,184.6L146.4,187L145.5,187.2L144.6,186.4L143.7,186.1L142.8,186.5L140.1,188.7L138.3,189.4L136.3,187.8L135.6,186.9L134.7,186.5L133.8,187.8L128.4,187.8L124.8,188.7L124.8,190.2L124.5,189.6L124.8,188.7L124.4,187.8L122.6,185.1L122.1,183.5L121.2,182.9L119.4,184.7L117.1,184.2L113.1,184.1L110.3,182.6L106.7,182.9L104,183.7L103.1,183.6L101.3,182.7L99.5,182.5L96.8,180.8L94.1,181.7L93.2,181.6L90.5,180.3L90.3,177.9L89.6,176.8L86,175.2L84.2,173.6L82.4,173L81.5,173.2L79.9,175.2L79,177.9L77.9,180.1L77,180.5L76.1,180.4L72.4,181.2L68.8,184.8L67.9,185L67,184.2L66.4,182.4L65.2,181.5L60.7,179.7L57.1,179.8L52.6,180.9L51.5,181.5L51.1,182.4L51.1,183.3L52.6,185.1L56.2,186.7L62.5,187.6L66.1,187.7L67.9,187.1L71.5,187.2L72.4,186L72,184.2L72.4,183.7L74.2,184.5L77,183.9L78.8,185.5L80.6,186.1L83.3,184.4L84.2,184.7L86,186.9L88.7,188L92.3,187.2L97.7,190.5L98.6,190.5L100.4,188L101.3,188.2L102.2,189.1L103.1,189.5L107.6,190.4L109.4,191.2L110.3,191.2L112.2,190.1L114,189.9L115.8,189L118.5,189.8L120.3,189.6L121.2,189.9L122.1,190.9L123.9,191.6L124.9,193.2L125,195.9L125.7,196.6L132,198L134.7,198.1ZM92.8,168.8L94.1,169.3L95,169.2L95.5,168.8L95.8,167.9L95,166.8L94.1,166.6L93.2,166.8L92.2,167.9ZM73.3,167L74.2,167.7L75.2,167.7L76,167L76.3,166.1L75.2,165.1L74.2,165.1L73.1,166.1Z" fill="#f5a988" fill-rule="evenodd"/>
<path d="M151.8,224.8L154.5,224.8L155.1,223L154.6,222.2L153.7,222.6L151.9,223.9ZM41,203.1L41.8,203.8L42.7,204L44.2,203.1L44.1,202.2L42.7,201.7L41.8,201.8L41.2,202.2ZM49.5,197.7L50.8,198L51.1,197.7L50.8,197.2L49.9,197.1ZM56,197.7L57.1,198.4L57.7,197.7L57.1,196.7ZM131.7,196.8L136.5,197.6L139.2,196.7L142.8,196.4L147.3,197.5L154.6,195.6L156.4,195.8L158.2,195.4L162.7,196.8L165.4,195.8L165.4,189.2L163.6,189L157.3,191L156.4,190.8L155.5,190.2L152.7,190.5L150.1,189.1L149.2,189L147.3,189.9L145.5,190.1L141.9,189.4L138.3,191.2L135.6,190.6L134.7,190.8L132,189.3L127.5,190L126.8,191.4L127.4,194.1L129.1,195.9ZM130.2,193.2L129.3,192.9L128.7,192.3L129.3,191.6L130.2,191.2L131.1,191.5L131.6,192.3ZM106.8,188.7L109.4,189L110.2,188.7L111.2,186.9L111,186L109.4,185.2L106.7,186.2L105.8,186.3L104,185.7L103.4,186L103.3,186.9L105.8,187.9ZM87.4,186.9L88.7,187.3L89.6,187L90.5,186L90.7,185.1L89.8,182.4L87.8,179.9L82.4,178.6L80.1,179.7L79.9,180.6L81.5,182.2L83.3,182.3L85.1,181.9L85.9,182.4L86.5,186ZM57.9,186L62.5,186L63.4,185.7L64.3,184.5L64.5,183.3L63.9,182.4L62.5,181.4L59.8,180.5L57.1,180.8L53.6,182.4L53.4,183.3L54.1,184.2L56.2,185.5ZM94.3,186L95.9,186.9L97.7,186.7L99.2,185.1L99.1,184.2L97.7,182.7L95.9,182.4L94.5,183.3L93.9,184.2L93.7,185.1ZM74,167L75.2,167.2L75.7,166.1L75.2,165.6L74.2,165.6L73.6,166.1Z" fill="#df755d" fill-rule="evenodd"/>
<path d="M56.4,197.7L57.1,198.1L57.5,197.7L57.1,197.1ZM133.6,195.9L135.6,196.5L136.5,196.5L140.1,194.4L140.6,193.2L140.1,192.8L139.2,192.7L137.4,193.2L135.6,192.7L133.8,193L132.5,194.1L132.6,195ZM144.9,195.9L146.4,196.5L148.3,196.4L151.9,195L152.7,194.1L152.7,193.2L151.9,192.3L148.3,191.2L144.6,191.6L142.8,191.2L141.5,191.4L140.8,192.3L141.5,193.2L143.7,194.5ZM160.9,193.2L160.9,193.2L160.9,193.2ZM87.4,186L88.7,186.5L89.5,186L89.8,185.1L89.6,184.2L88.7,182.9L87.8,182.8L87.4,183.3L87.1,185.1ZM95.8,186L96.8,186.2L98.3,185.1L98.2,184.2L96.8,183L95.9,183.1L94.7,184.2L94.7,185.1ZM58.6,185.1L59.8,185.1L61.6,184.5L62.3,184.2L62.6,183.3L61.6,182.1L59.8,181.4L57.6,181.5L56,182.4L55.7,183.3L56.3,184.2ZM81.3,180.6L82.4,181.1L83.8,180.6L83.3,179.7L82.4,179.5L81.8,179.7ZM74.1,166.1L74.2,166.4L75.2,166.1L74.2,166Z" fill="#c53f3d" fill-rule="evenodd"/>
<path d="M56.8,197.7L57.1,197.9L57.2,197.7L57.1,197.5ZM145.8,194.1L146.4,194.8L147.3,194.5L147.9,193.2L146.4,192.7L145.6,193.2ZM88,185.1L88.7,185.4L88.7,184.5ZM95.5,185.1L96.8,185.6L97.6,185.1L97.6,184.2L96.8,183.6L95.9,183.7L95.4,184.2ZM57.7,183.3L58.9,184L59.8,183.8L60.4,183.3L59.8,182.6L58.9,182.3L58,182.6Z" fill="#a11228" fill-rule="evenodd"/>
<path d="M43.4,224.8L43.6,224.8L47.1,224.8L46.3,224.3L45.4,224.2ZM89.4,224.8L95.5,224.8L96.8,223.3L98.6,222.3L100.4,220.6L101.3,220.5L102.2,220.6L104,221.9L104.9,222L105.8,221.9L106.7,221.2L106.9,222.1L106.1,223L108.3,223.9L109.4,223.6L111.2,222.1L112.2,223L111.7,224.8L112.6,224.8L114,224L115.8,223.6L118.5,223.7L120.1,224.8L121.7,224.8L123,222.7L124.8,223.5L130.2,223.4L132,224.1L132.9,223.8L133.7,222.1L132.9,220.8L131,220.3L130.4,218.5L129,217.6L128.5,216.7L129.6,215.8L131.9,215.8L132.9,217.2L133.8,217.8L138.3,216.5L142.8,217.7L147.3,216.5L151,214.8L153.7,214.6L156.4,213.6L157.3,213.6L159.1,214.1L160.9,213.8L162.9,215.8L164.5,216.7L165.4,216.8L165.4,210.1L162.7,210.4L158.2,209.7L154.6,210.8L152.8,210.1L150.1,207.9L147.2,206.8L146.2,205.8L145.5,205.6L144.6,205.9L142.8,207.4L142,207.7L140.1,207.4L138.6,206.8L137.4,205.2L134.9,203.1L133.8,202.6L130.2,202.4L128.4,201.9L126.6,202.2L123,203.4L119.4,203.2L115.8,204.2L114,203.8L107.6,204L105.8,203.2L103.1,204.1L100.4,202.9L96.8,203L93.2,200.8L92,199.5L92.2,194.1L89,191.4L86.9,190.9L83.3,190.6L80.6,190.8L77.9,190L77,190.1L76.1,190.6L74.8,192.3L71.5,193.5L67,194L65.2,193.7L63.8,194.1L63.6,195L65.2,196.1L65.8,196.8L67,200.4L66.5,202.2L66.3,204.9L66.7,206.8L67,207.3L69.3,208.6L68.8,210.4L69.7,211.9L70.6,212.3L71,213.1L70.6,213.4L67.9,213.9L67,214.9L66.9,215.8L67.6,218.5L67.7,221.2L68.4,223L69.7,223.4L72.4,222.8L74.2,223.8L75.2,223.9L77.9,223.3L80.6,223.7L82.4,223.3L84.2,221.2L85.1,220.5L86,220.4L88.1,221.2ZM113.1,217.7L112.9,217.6L113.1,217.6ZM31.9,220.3L33.6,220.6L34.4,220.3L34.7,219.4L34.4,215.8L35.1,214L36.5,212.2L36.6,211.3L36.3,210.4L33.4,205.8L31.8,205.2L30,204.9L28.2,203.7L25.5,204.3L24.4,204L21,201.4L21,204.7L22.8,213.1L27.3,216.2L28.2,218.7ZM36.1,220.3L36.3,220.8L37.2,221.1L40,221.1L42.7,219.2L43.6,219.2L45.4,220.1L46.3,219.8L49.3,218.5L49.9,217.8L50.6,215.8L50.6,214.9L46.3,211.6L44.5,212.3L41.8,212.7L38.7,215.8L37.8,217.6L36,219.4ZM56.9,218.5L57.1,218.7L57.6,218.5L57.1,218.3ZM48,194.1L49.9,194.7L52.6,194.4L53.6,192.3L53.5,190.5L53.1,189.6L49,188.5L47.2,188.9L46,190.5L46.1,191.4L46.9,193.2ZM56.9,190.5L58,190.6L58.9,189.8L58.6,188.7L57.1,188.3L56.3,188.7L55.8,189.6ZM120.9,136.4L123,137.2L124.8,137.1L126.1,136.4L126.7,134.6L119.6,134.6L119.9,135.5ZM130,134.6L131.1,135.3L132,135.2L132.7,134.6ZM143,134.6L143.7,135.1L144.6,135.1L144.9,134.6Z" fill="#c7e0ed" fill-rule="evenodd"/>
<path d="M91.5,224.8L94.2,224.8L94.1,223.7L93.2,223.2L92.3,223.6L91.8,223.9ZM96.2,221.2L97.1,221.2L98.2,220.3L98.9,219.4L99.4,217.6L100.4,216.9L101.3,216.8L102.7,217.6L104,217.7L108.5,214.4L109.4,214.3L113.1,215.2L118.5,215.1L119.4,215.6L121.2,217.3L122.1,217.5L124.8,217L127.5,215L130.2,214.6L133.8,215.4L138.3,215.1L141.9,216.2L143.7,216.2L148.3,215L151.8,212.2L151.6,211.3L148.3,208.4L144.6,208L141.9,208.9L139.2,208.4L138.3,208.1L136.5,206.4L134.7,205.5L133.8,204.4L132.9,204L131.1,204.1L129.3,204.9L128.4,204.9L126.6,204L123,204.8L119.4,204.8L116.7,205.3L113.1,204.7L107.6,206L105.8,205.4L103.1,205.3L100.4,204.6L97.7,205.3L95.9,205.4L94.3,204.9L93.9,203.1L91.4,201.8L90.5,201.8L88.7,202.4L85.1,201.4L81.5,202.6L78.1,201.3L77,200.4L77,199L77.9,198.6L79.7,199.5L80.6,199.6L85.1,198.4L86.9,199.1L87.8,198.9L89.9,195.9L89.3,193.2L87.8,192.1L83.3,191.5L80.6,191.9L77.9,191.5L77,191.8L74.2,195L72.4,195.2L71.1,195.9L73.2,198.6L73.1,199.5L69.5,202.2L69.4,203.1L70,204.9L70.9,205.8L74.8,207.7L75.8,208.6L76.2,209.5L74.3,213.1L72.7,214.9L72.3,216.7L71.1,218.5L71,219.4L71.5,220.3L72.4,220.6L75.2,220.8L77,220.6L78.8,220.9L79.7,220.8L80.6,219.7L81.5,219.6L82.4,220.6L85.1,218.8L86,218.6L88.7,219.1L92.3,219L95.4,220.3ZM29.7,216.7L30,217L31.2,216.7L34.6,212.2L34.5,211.1L31.8,209.1L27.3,209.4L26.4,209.1L24.6,210.1L24,211.3L24.3,212.2L27.3,213.3L28.8,214.9ZM43.2,216.7L44.5,217.5L45.3,216.7L43.6,216.3ZM49.5,194.1L50.8,194.2L51.7,193.8L52.6,192.6L52.7,191.4L52.4,190.5L51.2,189.6L49.9,189.2L48.1,189.3L46.9,190.5L46.8,191.4L47.7,193.2ZM56.5,189.6L57.1,190.1L58,190L58.4,189.6L58,188.9L57.1,188.8Z" fill="#97c8df" fill-rule="evenodd"/>
<path d="M95,217.6L95.9,217.8L96.8,217.6L101.3,214.8L102.2,214.5L104,214.9L105.8,213.7L108.5,212.8L110.3,212.7L113.1,213.4L119.4,214L122.1,215.6L123,215.8L125.7,213.9L130.2,213.7L134.7,214.1L138.3,213.2L139.1,214L141,214.6L144.6,214.7L147.6,214L148.4,213.1L148.6,211.3L148.3,210.5L147.3,210L141.9,210.7L140.1,210.1L138.3,210.8L136.8,208.6L135.8,207.7L132.9,205.9L132,205.8L129.3,207L128.4,207.1L125.6,205.8L119.4,205.9L116.7,206.5L114,205.9L113.1,206L112.2,206.8L107.6,207.7L104.9,206.8L103.1,206.6L102.1,206.8L100.4,207.8L98.6,207L93.2,207.5L92.3,207.5L90.5,206.4L88.7,206.2L87.5,204L86,203.4L80.6,204.3L78.8,202.9L76.1,202.5L74.2,201.8L72.1,203.1L71.9,204L72.6,204.9L77,206.4L78.9,208.6L79.9,211.3L79.4,212.2L77.9,213.3L77.6,214.9L77.9,216.2L78.8,217.1L79.7,216.5L80.6,216.4L82.4,216.9L82.9,216.7L81.9,214.9L81.8,214L84.2,213.4L85.1,214.6L85.7,216.7L89.6,217.1L93.2,216.6ZM85.1,208.9L84.7,208.6L84.2,207.5L85.1,207.3L85.7,207.7L85.7,208.6ZM79.5,197.7L82.4,198.1L86.9,196.1L87.8,195.3L87.6,194.1L86.3,193.2L83.3,192.5L79.7,192.8L78.7,193.2L77.3,195L77.4,195.9L78.1,196.8ZM48.6,193.2L49.9,193.6L51.3,193.2L51.9,192.3L51.9,191.4L51.4,190.5L49.9,189.8L48.1,190.1L47.5,191.4L47.7,192.3Z" fill="#5ba2cb" fill-rule="evenodd"/>
<path d="M94.6,215.8L95.9,216.2L99.1,214.9L101.3,213.1L104,212.8L109.4,211.1L114.5,212.2L117.6,212.4L122.1,213.7L124.8,212.7L134.7,212.8L135.9,212.2L136,211.3L134.8,208.6L132.9,207.3L132,207.2L128.4,208.3L124.8,207.1L121.2,206.8L119.4,207.1L116.7,208.4L114.9,207.7L113.1,208.9L112.2,209.1L110.3,208.8L107.6,209.7L106.7,209.7L103.1,208.6L100.4,209.6L97.7,208.5L94.1,208.3L89.6,208.8L88.2,209.5L86.4,211.3L86.9,214.6L87.8,215L89.6,214.6L93.2,215ZM80.6,196.8L82.4,196.8L83.8,195.9L84.3,195L83.4,194.1L82.4,193.8L80.6,193.8L79.8,194.1L79.2,195L79.2,195.9ZM48.5,192.3L49.9,193L51.1,192.3L51.1,191.4L50.2,190.5L49,190.4L48.1,191.4Z" fill="#337eb8" fill-rule="evenodd"/>
<path d="M95.1,214L96.8,214.3L98.4,214L99.9,212.2L100.1,211.3L97.7,209.7L94.1,209.3L93.2,209.6L90.5,211.4L90.1,212.2L90.9,213.1ZM120.8,212.2L122.1,212.6L123.9,211.9L128.4,211.3L132,211.9L133.8,211.4L134.1,210.4L133.7,209.5L132,208.6L130.2,208.9L128.4,210.2L127.7,209.5L124.8,208.3L122.1,207.8L121.2,207.9L118.5,209.4L117.7,210.4L118.4,211.3ZM49.3,191.4L49.9,191.9L50,191.4Z" fill="#1b5a9b" fill-rule="evenodd"/>
<path d="M97.4,212.2L97.8,212.2L97.9,211.3L96.6,211.3ZM122.7,210.4L123.9,210.6L125,210.4L123.9,209.4L123,209.5Z" fill="#053061" fill-rule="evenodd"/>
<path d="M19.2,132.7L94.1,132.7L94.1,134.6L93.7,137.3L91.8,139.4L90,141.2L86.9,143.9L84.7,145.9L80.9,147.5L79.3,146.6L77,147.7L76.1,148.4L74.8,149.9L74.6,151.2L72.4,152.4L70.6,153.3L70.5,154L72.1,155.1L73.9,157.5L74.2,159.8L73.7,161.3L72.3,161.8L70.6,162.2L68.8,162.7L68.5,161.6L69,159.8L68.5,158.4L69.2,156.9L67.4,156.6L66.1,156.2L66.7,154.9L66.5,153.5L65,152.6L63.4,153L61.1,154L59.4,154.8L60,153.5L61.1,151.9L60.3,151L58.9,151.2L56.2,153.1L54.4,154.2L52.9,154.6L53.1,155.8L55.1,157.1L55.8,157.8L58.4,156.6L60,157.3L61.8,157.5L61.4,158.4L58.9,158.9L57.6,159.6L55.8,161.3L55.8,162.2L57.6,163.1L58.5,165.2L60.3,167L60.5,168.5L59.1,169.6L60.7,170.7L60.3,172.1L60,173.7L58.4,175L57.1,176.8L56.4,178.8L54.8,180.2L53.5,180.9L52,182.2L50.8,183.3L49,183.8L46.8,184.4L45.5,184.2L44.8,185.1L42.7,185.5L40.9,186L40,186.5L39.8,188L38.9,188L38.7,186.2L37.2,185.8L36,185.8L34.4,186.4L33.1,187.8L31.8,189.1L31.3,190.7L32.6,192.3L34,194.1L35.8,195.7L37.1,197.2L37.8,199.7L37.8,202.2L37.4,203.9L35.8,204.9L34,205.8L33.3,206.4L32.9,207.7L30.9,208.6L29.8,209.1L29.8,207.1L29.3,206L27.5,205.7L26.4,204.2L25.2,202.8L23.9,201.9L22.6,201.9L22.6,200.6L19.2,200.6ZM19.2,208L21.2,209.5L21.7,211.3L22.4,212.2L23.9,212.5L25,213.6L26.4,214.9L27.1,216.1L27.3,217.6L27.1,219.4L28,220.8L28.6,222.1L28.2,222.5L27.3,222.5L25.9,221.4L24.2,220.1L23.3,219.4L22.4,217.9L21.7,216.1L21.5,214.5L19.2,213.4ZM19.2,219L21,219.9L22.4,220.8L23.9,221.6L25,222.6L26.4,223.4L27.7,224.4L27.9,226.6L19.2,226.6ZM37.2,226.6L37.1,223L37.8,221.6L39.6,221.7L41.2,222.1L41.6,220.5L43.6,219.4L45,218.5L46.3,216.9L47.7,216L49,214.9L50.2,213.4L51.3,212.2L52.8,213.2L53.9,214.3L55.7,215.4L54,216.9L52.9,218.3L52.6,219.7L53.5,220.8L55.1,222.8L53.5,223.2L52.9,226.6ZM58.2,191.4L61.1,191.6L61.4,193.6L60.7,195.6L60,196.3L60.2,199L61.8,199.2L63.1,199.9L64.5,201.3L64.3,202.1L63.2,201.3L61.8,200.3L60.3,200.1L58.9,200.1L58.4,199.2L58.7,198.4L57.5,198.1L56.9,195.9L57.6,194.8L57.8,193.2ZM57.8,200.6L59.3,200.6L59.8,202.1L59.3,202.8L58.5,202.1ZM52,209.6L53.9,208.2L55.8,206.2L56.4,204.6L55.8,204.6L54.6,206.4L52.8,208.4ZM60.5,203.5L62.3,204L62.7,204.8L61.8,205.8L60.7,205.8ZM61.6,206.8L62.9,205.1L63.6,205.3L64.3,204.6L64.3,206.4L63.1,208.4L62.3,208.4ZM64.9,202.2L66.7,202.2L67.4,204.4L66.5,206.2L65.8,206.4L65.4,204.6ZM60.5,212.2L61.1,210.5L62.5,209.5L64,210L65.6,209.3L66.8,207.3L68.1,208.2L68.8,210.4L68.7,212.3L68.1,213.4L67.2,213.8L66.8,214.7L66.5,214L67,212.5L66.5,212.2L64.7,213.4L64.3,212.2L63.2,211.3L61.6,211.6ZM58.9,179.3L60.5,179.7L60,181.5L59.4,183.6L58.5,185.1L57.6,184L57.3,182.7L58,180.9ZM36.7,190.1L37.8,188.9L40.1,188.5L40.9,189.4L40,190.9L38.3,191.9L36.7,191.4ZM93.2,149.9L93,148.1L93.9,146.8L95.7,146.6L96.3,144.5L96.4,142.9L98.4,144.3L100.8,145.4L102.8,144.8L102.9,146.6L101.3,147.2L99.5,148.6L99,149L96.8,148.1L95,148.3L95.2,149.4L93.9,149.9ZM93.7,150.3L95.7,150.1L95.9,151.9L96.8,153.5L96.1,155.5L95,155.8L95,158L94.3,159.5L94.8,160.4L93.9,161.3L93,161.8L92.8,160.7L91.8,161.3L91.2,162.3L90,162.3L88.3,162.3L87.6,161.6L87.1,162.5L87.6,162.9L86.5,163.6L85.6,164.3L84.4,163.6L84.5,162.3L82.9,162.2L80.9,162.7L79.1,163.4L77,163.4L76.8,162.7L78.4,162.2L80,160.9L81.5,160.7L83.3,160.5L84.7,160.4L86,160.4L86.3,159.3L87.4,158.2L88.3,157.1L87.8,158.2L88.9,158L90.7,157.3L92.1,155.8L93,154L93.2,152.6L93,151.5ZM79.5,164.7L80.4,165.6L81.6,164.3L82.7,164.7L83.6,163.8L83.1,162.9L81.6,163.1L80.2,163.6ZM74.6,164.7L75.9,163.8L77,163.6L78.2,164.3L78.6,165.6L77.7,167.9L76.6,168.7L75.5,168.3L75.7,166.7L74.8,165.8ZM96.8,132.7L97.2,136.4L96.8,138.2L97,140L96.6,141.8L97.9,140.5L99.3,140.3L98.6,139.1L97.9,138.2L99,136L100.4,136L100.4,132.7ZM56.7,226.6L57.1,223.2L58.5,222.5L60.7,222.8L63.4,223.2L65.4,222.3L66.5,221.9L65.9,223.2L64.9,224.1L62.5,223.9L59.8,223.9L58,223.9L57.5,226.6ZM70.5,226.6L70.6,223L71.4,220.8L72.1,221.9L72.8,222.1L71.7,223.2L72.8,224.3L71.9,226.6Z" fill="#808080"/>
<path d="M126.8,135.7h1.3v1.3h-1.3zM130.5,135.7h1.3v1.3h-1.3zM134.1,135.7h1.3v1.3h-1.3zM137.7,135.7h1.3v1.3h-1.3zM141.3,135.7h1.3v1.3h-1.3zM144.9,135.7h1.3v1.3h-1.3zM148.5,135.7h1.3v1.3h-1.3zM126.8,139.3h1.3v1.3h-1.3zM130.5,139.3h1.3v1.3h-1.3zM134.1,139.3h1.3v1.3h-1.3zM137.7,139.3h1.3v1.3h-1.3zM141.3,139.3h1.3v1.3h-1.3zM76.3,150.1h1.3v1.3h-1.3zM79.9,150.1h1.3v1.3h-1.3zM83.5,150.1h1.3v1.3h-1.3zM65.5,153.8h1.3v1.3h-1.3zM65.5,157.4h1.3v1.3h-1.3zM79.9,164.6h1.3v1.3h-1.3zM90.7,168.2h1.3v1.3h-1.3zM83.5,171.8h1.3v1.3h-1.3zM79.9,179h1.3v1.3h-1.3zM83.5,179h1.3v1.3h-1.3zM155.7,179h1.3v1.3h-1.3zM159.3,179h1.3v1.3h-1.3zM87.1,182.6h1.3v1.3h-1.3zM126.8,182.6h1.3v1.3h-1.3zM130.5,182.6h1.3v1.3h-1.3zM144.9,182.6h1.3v1.3h-1.3zM148.5,182.6h1.3v1.3h-1.3zM152.1,182.6h1.3v1.3h-1.3zM155.7,182.6h1.3v1.3h-1.3zM159.3,182.6h1.3v1.3h-1.3zM162.9,182.6h1.3v1.3h-1.3zM79.9,186.2h1.3v1.3h-1.3zM87.1,186.2h1.3v1.3h-1.3zM126.8,186.2h1.3v1.3h-1.3zM130.5,186.2h1.3v1.3h-1.3zM134.1,186.2h1.3v1.3h-1.3zM137.7,186.2h1.3v1.3h-1.3zM141.3,186.2h1.3v1.3h-1.3zM144.9,186.2h1.3v1.3h-1.3zM148.5,186.2h1.3v1.3h-1.3zM152.1,186.2h1.3v1.3h-1.3zM155.7,186.2h1.3v1.3h-1.3zM159.3,186.2h1.3v1.3h-1.3zM162.9,186.2h1.3v1.3h-1.3zM141.3,189.9h1.3v1.3h-1.3zM144.9,189.9h1.3v1.3h-1.3zM148.5,189.9h1.3v1.3h-1.3zM152.1,189.9h1.3v1.3h-1.3zM155.7,189.9h1.3v1.3h-1.3zM159.3,189.9h1.3v1.3h-1.3zM162.9,189.9h1.3v1.3h-1.3zM79.9,193.5h1.3v1.3h-1.3zM83.5,193.5h1.3v1.3h-1.3zM87.1,193.5h1.3v1.3h-1.3zM130.5,193.5h1.3v1.3h-1.3zM134.1,193.5h1.3v1.3h-1.3zM137.7,193.5h1.3v1.3h-1.3zM141.3,193.5h1.3v1.3h-1.3zM144.9,193.5h1.3v1.3h-1.3zM148.5,193.5h1.3v1.3h-1.3zM152.1,193.5h1.3v1.3h-1.3zM155.7,193.5h1.3v1.3h-1.3zM159.3,193.5h1.3v1.3h-1.3zM162.9,193.5h1.3v1.3h-1.3zM76.3,197.1h1.3v1.3h-1.3zM79.9,197.1h1.3v1.3h-1.3zM83.5,197.1h1.3v1.3h-1.3zM126.8,197.1h1.3v1.3h-1.3zM141.3,197.1h1.3v1.3h-1.3zM144.9,197.1h1.3v1.3h-1.3zM148.5,197.1h1.3v1.3h-1.3zM152.1,197.1h1.3v1.3h-1.3zM155.7,197.1h1.3v1.3h-1.3zM159.3,197.1h1.3v1.3h-1.3zM162.9,197.1h1.3v1.3h-1.3zM72.7,204.3h1.3v1.3h-1.3zM76.3,204.3h1.3v1.3h-1.3zM79.9,204.3h1.3v1.3h-1.3zM83.5,204.3h1.3v1.3h-1.3zM105.2,204.3h1.3v1.3h-1.3zM116,204.3h1.3v1.3h-1.3zM119.6,204.3h1.3v1.3h-1.3zM123.2,204.3h1.3v1.3h-1.3zM79.9,207.9h1.3v1.3h-1.3zM87.1,207.9h1.3v1.3h-1.3zM101.6,207.9h1.3v1.3h-1.3zM105.2,207.9h1.3v1.3h-1.3zM112.4,207.9h1.3v1.3h-1.3zM116,207.9h1.3v1.3h-1.3zM119.6,207.9h1.3v1.3h-1.3zM123.2,207.9h1.3v1.3h-1.3zM126.8,207.9h1.3v1.3h-1.3zM130.5,207.9h1.3v1.3h-1.3zM134.1,207.9h1.3v1.3h-1.3zM137.7,207.9h1.3v1.3h-1.3zM76.3,211.5h1.3v1.3h-1.3zM79.9,211.5h1.3v1.3h-1.3zM83.5,211.5h1.3v1.3h-1.3zM87.1,211.5h1.3v1.3h-1.3zM90.7,211.5h1.3v1.3h-1.3zM94.4,211.5h1.3v1.3h-1.3zM98,211.5h1.3v1.3h-1.3zM101.6,211.5h1.3v1.3h-1.3zM105.2,211.5h1.3v1.3h-1.3zM108.8,211.5h1.3v1.3h-1.3zM116,211.5h1.3v1.3h-1.3zM119.6,211.5h1.3v1.3h-1.3zM126.8,211.5h1.3v1.3h-1.3zM130.5,211.5h1.3v1.3h-1.3zM134.1,211.5h1.3v1.3h-1.3zM69.1,215.1h1.3v1.3h-1.3zM72.7,215.1h1.3v1.3h-1.3zM76.3,215.1h1.3v1.3h-1.3zM79.9,215.1h1.3v1.3h-1.3zM83.5,215.1h1.3v1.3h-1.3zM87.1,215.1h1.3v1.3h-1.3zM90.7,215.1h1.3v1.3h-1.3zM94.4,215.1h1.3v1.3h-1.3zM98,215.1h1.3v1.3h-1.3zM101.6,215.1h1.3v1.3h-1.3zM105.2,215.1h1.3v1.3h-1.3zM108.8,215.1h1.3v1.3h-1.3zM112.4,215.1h1.3v1.3h-1.3zM116,215.1h1.3v1.3h-1.3zM119.6,215.1h1.3v1.3h-1.3zM123.2,215.1h1.3v1.3h-1.3zM126.8,215.1h1.3v1.3h-1.3zM130.5,215.1h1.3v1.3h-1.3zM134.1,215.1h1.3v1.3h-1.3zM137.7,215.1h1.3v1.3h-1.3zM141.3,215.1h1.3v1.3h-1.3zM162.9,215.1h1.3v1.3h-1.3zM65.5,218.7h1.3v1.3h-1.3zM69.1,218.7h1.3v1.3h-1.3zM72.7,218.7h1.3v1.3h-1.3zM76.3,218.7h1.3v1.3h-1.3zM79.9,218.7h1.3v1.3h-1.3zM83.5,218.7h1.3v1.3h-1.3zM87.1,218.7h1.3v1.3h-1.3zM90.7,218.7h1.3v1.3h-1.3zM94.4,218.7h1.3v1.3h-1.3zM98,218.7h1.3v1.3h-1.3zM101.6,218.7h1.3v1.3h-1.3zM105.2,218.7h1.3v1.3h-1.3zM119.6,218.7h1.3v1.3h-1.3zM162.9,218.7h1.3v1.3h-1.3zM72.7,222.3h1.3v1.3h-1.3zM76.3,222.3h1.3v1.3h-1.3zM79.9,222.3h1.3v1.3h-1.3zM83.5,222.3h1.3v1.3h-1.3zM87.1,222.3h1.3v1.3h-1.3zM90.7,222.3h1.3v1.3h-1.3zM94.4,222.3h1.3v1.3h-1.3zM98,222.3h1.3v1.3h-1.3zM101.6,222.3h1.3v1.3h-1.3zM105.2,222.3h1.3v1.3h-1.3zM144.9,222.3h1.3v1.3h-1.3zM148.5,222.3h1.3v1.3h-1.3zM152.1,222.3h1.3v1.3h-1.3zM155.7,222.3h1.3v1.3h-1.3zM159.3,222.3h1.3v1.3h-1.3zM162.9,222.3h1.3v1.3h-1.3z" fill="#000"/>
<rect x="111.2" y="203.1" width="54.2" height="14.4" fill="none" stroke="#000" stroke-width="2.15"/>
<rect x="125.7" y="185.1" width="39.7" height="14.4" fill="none" stroke="#000" stroke-width="2.15"/>
</g>
<rect x="21" y="134.4" width="144.4" height="90.4" fill="none" stroke="#2a2a2a" stroke-width="0.7"/>
<line x1="18.6" y1="134.55" x2="21" y2="134.55" stroke="#2a2a2a" stroke-width="0.6"/>
<text x="15.8" y="136.75" font-size="7.0" text-anchor="end" stroke="#111" stroke-width="0.18" >50°N</text>
<line x1="18.6" y1="152.6" x2="21" y2="152.6" stroke="#2a2a2a" stroke-width="0.6"/>
<text x="15.8" y="154.8" font-size="7.0" text-anchor="end" stroke="#111" stroke-width="0.18" >40°N</text>
<line x1="18.6" y1="170.65" x2="21" y2="170.65" stroke="#2a2a2a" stroke-width="0.6"/>
<text x="15.8" y="172.85" font-size="7.0" text-anchor="end" stroke="#111" stroke-width="0.18" >30°N</text>
<line x1="18.6" y1="188.7" x2="21" y2="188.7" stroke="#2a2a2a" stroke-width="0.6"/>
<text x="15.8" y="190.9" font-size="7.0" text-anchor="end" stroke="#111" stroke-width="0.18" >20°N</text>
<line x1="18.6" y1="206.75" x2="21" y2="206.75" stroke="#2a2a2a" stroke-width="0.6"/>
<text x="15.8" y="208.95" font-size="7.0" text-anchor="end" stroke="#111" stroke-width="0.18" >10°N</text>
<line x1="18.6" y1="224.8" x2="21" y2="224.8" stroke="#2a2a2a" stroke-width="0.6"/>
<text x="15.8" y="227" font-size="7.0" text-anchor="end" stroke="#111" stroke-width="0.18" >0°</text>
<line x1="21" y1="224.8" x2="21" y2="227.2" stroke="#2a2a2a" stroke-width="0.6"/>
<text x="21" y="234.8" font-size="7.0" text-anchor="middle" stroke="#111" stroke-width="0.18" >100°E</text>
<line x1="57.1" y1="224.8" x2="57.1" y2="227.2" stroke="#2a2a2a" stroke-width="0.6"/>
<text x="57.1" y="234.8" font-size="7.0" text-anchor="middle" stroke="#111" stroke-width="0.18" >120°E</text>
<line x1="93.2" y1="224.8" x2="93.2" y2="227.2" stroke="#2a2a2a" stroke-width="0.6"/>
<text x="93.2" y="234.8" font-size="7.0" text-anchor="middle" stroke="#111" stroke-width="0.18" >140°E</text>
<line x1="129.3" y1="224.8" x2="129.3" y2="227.2" stroke="#2a2a2a" stroke-width="0.6"/>
<text x="129.3" y="234.8" font-size="7.0" text-anchor="middle" stroke="#111" stroke-width="0.18" >160°E</text>
<line x1="165.4" y1="224.8" x2="165.4" y2="227.2" stroke="#2a2a2a" stroke-width="0.6"/>
<text x="165.4" y="234.8" font-size="7.0" text-anchor="middle" stroke="#111" stroke-width="0.18" >180°</text>
<text x="21.3" y="253.7" font-size="8.45" text-anchor="start" stroke="#111" stroke-width="0.18" >(i)DGPI change_MME</text>
<g clip-path="url(#clip2)">
<rect x="20" y="257" width="146.4" height="92.2" fill="#e8f0f4"/>
<path d="M21,348.2L21.7,348.2L21,348ZM23.1,348.2L23.7,348.2L27.6,348.2L24.6,347.9ZM47.9,348.2L49.5,348.2L49,346.8L48.1,347.8ZM58.5,348.2L62.3,348.2L62.5,346.8L64,345.5L63.4,344.2L61.6,343.6L59.8,341.5L58.9,341.3L57.8,345.5L58,346.4L58.9,347.3ZM63.8,348.2L72,348.2L70.6,345.3L69.7,344.6L69.3,343.7L71.5,341.5L71.5,340.2L67.9,341.8L68.4,343.7L66.1,346.2L64.3,346.8ZM82.3,348.2L82.4,348.2L98.6,348.2L98.3,347.3L97.7,346.7L95,345.5L93.2,346.8L91.4,347.3L89.4,346.4L86,345.9L83.3,347.3ZM104.3,348.2L141.7,348.2L141.9,346.9L142.8,346.3L143.7,346.7L145,348.2L149.3,348.2L150.1,347.4L151,347.5L151.5,348.2L158.7,348.2L159.3,346.4L158.1,343.7L156.4,342.9L151.9,345L150.1,344.3L148.3,344.3L145.5,342.9L144.6,342.8L143.7,343L141.9,344.8L139.2,343.3L138.3,343.1L135.6,343.4L130.2,342.4L124.8,342.3L118.5,340.8L114.9,342.5L112.2,342.9L105.1,345.5L105.5,346.4L105.2,347.3ZM163.5,348.2L165.4,348.2L165.4,345.4L164.1,346.4ZM63.5,337.4L65.2,338L67,337.4L67.2,334.7L66.7,333.8L63.4,333.3L62,332L61.9,330.2L61,329.2L60.7,328.3L61.7,326.5L61.3,325.6L60.7,325.1L58.9,324.9L58,325L55.3,326.9L54.4,327L54.2,326.5L55.1,322.9L56.2,322.4L57.1,322.5L58.9,322L60.1,320.2L60.3,319.3L60,318.4L58.9,317.2L57.1,316L56.2,315.7L52.6,318.2L49.9,318.2L47.5,317.5L46.5,316.6L46.3,315.7L47.2,313L49,312.2L51.7,312.2L54.4,313.4L58,314.1L59.8,315L61.6,315L61.8,314.8L61.6,313L62.5,311.2L62.2,309.4L62.5,309.1L65.2,309.1L67,308.6L68.8,309.1L70.6,307.7L71.5,307.6L73.3,307.8L75,308.5L76.1,310.3L77.9,311.6L78.8,311.8L81.3,311.2L83.3,310.3L86.9,310.3L93.2,310.7L95.9,311.3L96.9,311.2L97.7,311.5L99.6,313L102.1,316.6L104,317.8L104.9,317.4L106.7,315.7L107.3,312.1L107.6,311.3L108.5,311.2L109.3,312.1L109.8,313.9L108,315.7L109,318.4L110.6,320.2L111.2,320.5L113.1,320.3L114.7,322L115.8,322.5L116.7,322.6L119.4,321.2L120.2,322L120.2,322.9L120.6,323.8L123.9,324.2L125.1,323.8L126,322.9L126.2,322L128.4,321.4L129.3,321.6L131.1,323.8L132,324.1L136.5,324.9L138.3,324.1L142.8,326.2L144.6,325.9L146.4,326.4L148.3,325.4L149.2,325.6L149.2,326.5L150.6,327.4L152.8,327.5L157.3,328.3L161.3,330.2L165.4,331.1L165.4,265.3L163.6,265L162.7,266.7L161.8,266.7L161.4,266.1L160.8,263.4L160,262.9L158.2,262.6L155.5,263.2L152.8,262.9L146.4,264.4L143.7,264.4L141.9,265.3L140.1,265.3L135.6,267.6L134.7,267.3L132,264.7L130.2,263.9L129.3,263.9L128.2,265.2L125.7,266.1L123.9,267.3L123,267.2L120.3,265L119.4,264.6L117.6,264.9L115.8,265.8L114.9,265.8L113.1,265L112.2,265.2L111.2,266.2L110.3,266.4L107.4,265.2L106.7,263.2L105.8,263.4L103.9,265.2L102.2,265.3L99.5,263.3L97.7,263.6L94.1,262.1L91,258.9L91,258L86.7,258L85.1,258.9L84.9,259.8L86,261.2L86,261.9L85.1,262.8L82.4,263.6L81.5,263.3L81,262.5L81.3,259.8L79.7,258L32,258L31.8,258.8L30.9,258.6L30.4,258L21,258L21,310.4L21.6,311.2L21.7,312.1L21,312.8L21,320.5L21.9,318.5L22.8,318.4L24,319.3L25.5,321.9L26.4,322.1L28.2,320.3L30,321.3L31.8,320.6L32.3,320.2L32.8,318.4L33.6,317.8L34.5,317.8L35.8,318.4L36,319.3L33.6,320.4L33.1,321.1L33.1,322L33.6,322.3L34.5,322.1L35.4,321.3L36.3,321.4L37.2,322.9L37.8,325.6L37.9,328.3L38.4,329.2L41,330.2L42.7,332L43.6,332.5L46.3,332.3L49,333.1L50.1,332.9L50.6,331.1L54.4,329.5L54.7,330.2L54.4,332L53.1,333.8L53.5,335.7L54.5,336.5L57.1,337.1L58.9,334.2L59.8,334L61.6,335.5L62.5,335.1L63.4,335.2L63.6,335.6L63.1,336.5ZM105.8,298.6L103.5,297.7L102.9,296.8L108.5,294.8L112.2,294.7L114,295.5L115.5,296.8L114.6,297.7L112.2,298.3L108.5,298.8ZM110.3,303.3L109.7,303.1L109.3,302.2L110.3,301.2L112,302.2ZM120.3,311.3L117.4,309.4L117.6,308.4L118.7,307.6L118.2,306.7L116.9,305.8L116.3,304L114,302.5L112.5,302.2L113.1,301.7L117.6,300L118.5,300.3L119.4,301.2L119.4,302.2L118.7,303.1L118.7,304L120.3,304.6L121.3,305.8L121.4,306.7L121,307.6L122.2,309.4L122.3,310.3L121.4,311.2ZM24.6,294.1L24.6,294.1L24.6,294ZM34.5,306.9L33.5,305.8L33.2,304.9L33.6,303.8L34.5,303.3L39,304.6L40,305.3L40,305.8L39.5,306.7L38.1,307.5ZM21,332L21,332.2L21.1,332L21,331.7ZM36.3,330.2L36.3,330.4L36.5,330.2ZM30.1,327.4L30.9,327.9L31.8,327.8L32.3,327.4L32.4,326.5L31.8,325.6L30.9,325.4L30.5,325.6L29.9,326.5ZM69.6,327.4L70,327.4L70.1,326.5L69.7,326.2L69.4,326.5ZM61.7,322.9L63.4,323.1L66.1,322.4L67.9,322.3L72.7,319.3L72,318.4L71.5,318.3L69.7,317.9L66.1,318L63.4,317L62.5,317.5L60.9,319.3L61.1,322Z" fill="#f9ece4" fill-rule="evenodd"/>
<path d="M68.5,348.2L68.8,348.2L70.7,348.2L69.7,347.7ZM110,347.3L111.2,347.5L111.3,346.4L110.3,346.9ZM114.4,348.2L114.9,348.2L131.1,348.2L130.5,345.5L129.3,344.3L127.5,343.7L124.8,343.5L119.4,342.2L117.6,343.7L115.8,344.1L114.1,345.5L113.8,346.4ZM133.6,348.2L136.5,348.2L136.6,347.3L133.8,346.2L133.2,346.4ZM56.1,334.7L56.2,334.8L56.3,334.7L56.2,334.5ZM43.3,330.2L43.6,330.5L44.5,330.5L45.4,330.1L46.3,330.1L48.1,330.6L50.7,328.3L52.3,325.6L52.5,323.8L53.5,322L53.7,321.1L53,320.2L51.7,319.2L47.2,318.7L42.7,316.9L39,317.9L37.9,320.2L39.4,327.4L40,328.4L42.1,329.2ZM153.5,323.8L154.6,323.8L156.4,322.5L157.3,322.2L160.9,322.7L165.4,321.2L165.4,309.9L164.4,309.4L162.6,307.6L161.9,306.7L161.1,304L160,302.8L158.2,303.2L155.5,304.8L153.7,305L152.8,305L150.1,303.2L148.3,303.5L146.4,304.7L145.5,304.3L144.6,303.4L141.9,304.2L138.3,304L136.5,304.8L133.8,304.5L131.1,305.7L130.2,304.8L129.3,304.7L126.4,307.6L126,309.4L126.6,310.4L127.5,310.9L128.4,310.8L129.3,307.6L130.2,306.5L131.1,305.9L132,306.7L132.4,307.6L131.2,310.3L128.9,312.1L129.2,313L130.6,314.8L131,316.6L130.6,319.3L130.9,320.2L132,321.1L133.8,322L138.3,322.2L141,323.5L142.8,323.4L145.5,322.6L148.3,322.6L150.1,322.8ZM55.5,321.1L56.2,321.7L57.1,321.9L58.2,321.1L58.4,320.2L58,319.6L57.1,319.3L56.2,319.5L55.5,320.2ZM63.1,321.1L64.3,321.2L66.1,320.4L68.8,320.6L69.3,320.2L69.4,319.3L67.9,319.1L66.1,319.8L63.4,319.4L62.5,320.2ZM116.6,318.4L117.6,319.1L120.3,319L122.1,318.3L124.8,317.9L125.3,317.5L125.8,316.6L124.8,315.8L122.1,315.3L121.7,314.8L121.8,313.9L121.2,313.4L120.3,313.3L118.5,314.2L117.2,313.9L117.2,312.1L114.6,310.3L114.4,308.5L114,308L113.1,308.4L112.2,310.7L112.1,309.4L111.2,308.6L110.3,308.6L109.5,309.4L109.6,310.3L110.3,311.1L112,311.2L111.6,312.1L111.7,313L112.4,313.9L112.7,315.7L114.9,317.6ZM36.1,316.6L38.1,317.4L39,316.6L39.6,315.7L39.7,314.8L39.3,313L40,312.3L40.9,312.1L44.5,312.8L47.2,311.5L56.2,311.4L57.1,311.1L60.1,308.5L61.6,307.7L65.2,308L67.5,306.7L68.2,304.9L67.9,304L67,303L65.2,302.3L61.6,302.9L59.8,302.8L55.3,303.3L49,306.2L44.5,305.7L39.1,308.8L32.7,308.6L31.8,309.2L30.9,310.5L28.7,312.1L28.8,313L30.9,315.4ZM103.1,314.8L104,315.4L104.9,314.9L105.4,313.9L105.6,310.3L106.4,308.5L106,307.6L104,306.3L102.2,306.1L100.4,305.1L97.2,304L96.8,303.4L94.7,303.1L94.5,302.2L97,300.4L95.3,297.7L95.2,296.8L96.8,294.5L97.6,292.2L97.5,290.4L96.6,289.5L92.3,288.4L89.6,288.9L87.8,288.9L86.9,290L86,290.1L84.2,289.5L83.3,289.6L77.9,291.6L75.2,294L74.2,294.4L71.5,293.3L70.3,292.2L68.8,291.8L67,292.1L65.7,293.1L65.5,294.1L66.1,295.1L67,295.7L67.9,296L73.3,295.8L74.2,296.6L74.6,299.5L75.4,300.4L76.1,302.3L75.2,304L72.7,305.8L73.6,306.7L76.2,307.6L77.9,310.3L80.1,310.3L82.4,309.1L83.3,309L86,309.1L88.7,309.7L93.2,309.3L95.9,310.2L99.5,310.4L101.1,309.4L101.3,308.5L101.5,310.3ZM97.6,302.2L98,302.2L97.7,301.4ZM66.2,300.4L67,301L67.9,301L69.2,299.5L69.2,298.6L67.9,296.9L67,296.8L66.1,297.3L65.4,298.6L65.5,299.5ZM141.9,296.8L142.8,297.2L143.8,296.8L144.2,295.9L143.7,294.9L142.8,294.6L142.2,295L141.6,295.9ZM72.9,291.3L73.3,291.9L74.2,292.1L76.1,291.8L77.2,290.4L77.2,289.5L76.8,288.6L75.2,287.8L73.3,288.1L72.2,289.5Z" fill="#fbd3bc" fill-rule="evenodd"/>
<path d="M125.4,347.3L126.7,347.3L126.8,346.4L125.7,345.3L124.6,345.5L124.7,346.4ZM40.7,327.4L41.8,328L42.7,328L45.4,327.1L47.2,327L48.1,326.1L48.7,322.9L49.7,322L51.7,321.1L51.5,320.2L49.9,319.5L47.2,320.1L43.6,319.9L40,321.6L39.7,322.9L40,325.6ZM152.8,322L156.4,321.2L160,321.2L162.7,320.2L165.4,320L165.4,312.9L161.9,310.3L160,308.1L158.1,307.6L155.5,308.7L152.9,310.3L151.9,310.6L150.1,310.1L149,309.4L148.3,308.3L146.4,309.3L142.8,308.9L139.2,309.8L138.1,310.3L136.9,312.1L135.8,313L133.2,318.4L133.2,319.3L141,321.4L144.6,321.2L147.3,320.6ZM56,321.1L57.1,321.7L57.8,321.1L57.8,320.2L57.1,319.6L56.1,320.2ZM36.9,315.7L37.4,315.7L38.1,314.9L38.1,313L39,310.3L43.6,311.5L47.2,310.5L53.5,310.4L56.2,309.7L61.6,306.5L63.4,307.2L65.2,307.4L66.4,306.7L67.1,305.8L67.3,304.9L66.8,304L65.2,303.1L63.4,303.3L61.6,304.3L60.7,304.5L58.9,304.3L55.3,304.4L51.7,305.9L49,307.5L44.5,307.7L42.7,308.1L40,310.1L39,310.3L34.5,309.5L32.7,310.2L31.5,312.1L31.3,313L32,313.9ZM109.9,310.3L110.3,310.7L111.2,310.6L111.7,309.4L111.2,308.9L110.3,308.9L109.8,309.4ZM95.3,309.4L96.8,309.7L98.6,309L99.4,307.6L99.3,306.7L98.3,305.8L96.8,305.1L95,305.1L93.9,305.8L93.4,306.7L93.5,307.6ZM87.1,308.5L88.7,309.1L89.6,309L90.4,308.5L91.9,306.7L91.9,305.8L91.4,304.9L89.6,303.9L87.8,301.6L86.9,301.6L85.1,302.3L82.4,301.3L81.5,301.4L79.7,302.2L78.1,304L77.8,304.9L78,305.8L79.7,307L80.6,307.3L82.4,306.9L84.2,307.9L86,307.8ZM66.3,299.5L67,300.2L67.9,300.1L68.5,299.5L68.4,298.6L67.9,298L67,297.9L66.3,298.6ZM93.1,292.2L94.1,292.8L95,292.4L95,291.3L94.1,291.1L93.3,291.3ZM73.3,290.4L74.2,291.1L75.2,291L75.9,290.4L76.2,289.5L75.2,288.5L74.2,288.5L73,289.5Z" fill="#f5a988" fill-rule="evenodd"/>
<path d="M41.2,326.5L41.8,326.9L42.7,326.9L44,325.6L44.5,323.8L43.8,322.9L42.7,322.5L41.3,322.9L40.8,324.7ZM56.5,321.1L57.1,321.4L57.5,321.1L57.1,319.9L56.6,320.2ZM150.1,320.2L152.8,320.8L160,320L163.6,318.1L164.5,318.3L165,317.5L164.2,316.6L164.2,314.8L161.5,312.1L160.9,311.7L160,312L159.7,313L159.1,313.5L158.2,313.1L156.4,311.1L155.5,310.8L153.9,311.2L152.5,312.1L152.8,313.2L154.2,313.9L154.2,314.8L153.7,315.2L149.2,316.1L147.4,315.7L145.5,314.6L143.7,314.3L143,313.9L142.7,313L143.6,311.2L142.8,311L141.9,311.2L141.5,312.1L141.6,313.9L141.1,314.8L140.1,315.3L138.3,315.2L137.9,315.7L137.8,318.4L141,320.2L145.5,319.7L147.3,319.1ZM35.1,313.9L36.4,313.9L37.1,312.1L37,311.2L36.3,310.6L34.5,310.4L33.3,311.2L33,312.1L33.4,313ZM42.4,310.3L43.6,310.6L44.5,310.4L45.9,309.4L44.5,308.8L43.6,308.9L42.5,309.4ZM110.3,310.3L111.2,309.7L111.3,309.4L110.3,309.2ZM50.7,309.4L53.5,309.6L55.3,309.1L58.4,307.6L59.5,306.7L59.7,305.8L58.9,305.3L57.1,305L54.4,305.5L52,306.7L50.9,307.6L50.2,308.5ZM88.2,308.5L89.6,308.3L90.3,307.6L90.3,306.7L89.6,305.8L87.8,305.4L87.2,305.8L87,306.7L87.2,307.6ZM94.7,308.5L95.9,309.2L97.7,308.9L98.6,307.6L98.4,306.7L96.8,305.7L95,306L94.4,306.7L94.3,307.6ZM63.4,306.7L65.2,306.9L66.1,306.3L66.6,304.9L66.1,304.1L65.2,303.6L64.3,303.5L63.2,304L62.3,304.9L62.4,305.8ZM80.4,304.9L82,304.9L83.1,304L82.4,303.3L81.2,303.1L80.1,304ZM66.9,299.5L67,299.6L68,299.5L67,298.5ZM74.1,290.4L75.2,290.5L75.6,289.5L75.2,289.1L74.2,289L73.7,289.5Z" fill="#df755d" fill-rule="evenodd"/>
<path d="M56.9,321.1L57.2,321.1L57.1,320.4ZM151.5,319.3L152.8,319.5L154.6,318.9L159.1,318.4L158.8,317.5L156.4,315.9L154.6,317.1L151.4,317.5L150.5,318.4ZM143.5,318.4L145.3,318.4L146,317.5L145.5,316.9L144.6,316.8L143,317.5ZM52.3,308.5L54.4,308.7L57,307.6L58.1,306.7L57.5,305.8L55.3,305.7L53.3,306.7L52.3,307.6ZM95.3,308.5L96.8,308.9L97.6,308.5L98.1,307.6L97.8,306.7L96.8,306.1L95.9,306.1L95,306.7L94.8,307.6ZM88,307.6L88.7,308.1L89.5,307.6L89.2,306.7L88.7,306.4L88.1,306.7ZM63.1,305.8L64.3,306.5L65.2,306.4L65.9,305.8L66.1,304.9L65.2,304.1L64.3,304L63.1,304.9ZM74.2,289.5L74.2,289.6L74.3,289.5L74.2,289.5Z" fill="#c53f3d" fill-rule="evenodd"/>
<path d="M95.9,308.5L96.8,308.6L97.7,307.6L97.1,306.7L95.6,306.7L95.2,307.6ZM54.1,307.6L55.3,307.6L56.2,306.7L55,306.7ZM64,305.8L65.2,305.8L65.4,304.9L64.3,304.6L63.9,304.9Z" fill="#a11228" fill-rule="evenodd"/>
<path d="M95.7,307.6L96.8,308L97.1,307.6L96.8,307.1L95.9,307.2Z" fill="#67001f" fill-rule="evenodd"/>
<path d="M41.6,348.2L45,348.2L44.5,345.4L43.6,344.7L41.1,346.4ZM32.1,346.4L33.6,346.9L37.2,346.1L38.9,344.6L40.1,342.8L40.4,341L41.8,339.5L42.7,339.1L43.6,339.2L45.4,340.5L47.2,340.7L49.8,339.2L50.3,338.3L50.1,337.4L47.6,334.7L42.7,333.6L40,331.1L39.1,331.1L38.1,333.2L37.2,333.7L35.4,333.1L33.6,333.1L32.7,332.9L34,331.1L34,330.2L33.6,329.4L31.8,329.9L29.1,328.8L27.6,325.6L26.7,324.7L23.7,323.5L22.8,323.5L21,324.7L21,329.7L22.4,332L23.2,335.6L21.6,342.8L22.1,343.7L23.7,344.9L24.6,344.8L27.3,342.9L30,343.1L31.1,343.7L31.5,345.5ZM54.2,346.4L54.4,346.6L55.3,345.7L55.3,344.2L54.4,343.7L53.5,343.7L52.9,344.6L53.2,345.5ZM80.3,345.5L80.6,345.8L81.5,345.5L82.4,344.7L84.2,343.8L85.1,342.2L86,341.8L87.8,342.2L91.4,342.3L93.2,343L95,343.3L96.8,344.4L100.4,344.7L103.1,343.4L104.9,343.1L107.6,341.8L114,341L118.5,339.7L124.8,341L127.5,340.4L129.3,340.6L132,340.2L133.8,341.1L137.4,341.5L139.2,341.3L140.1,341.9L141,341.9L141.9,340.9L142.8,340.5L145.5,341.2L148.3,342.4L152.8,342.3L155.5,341.6L160,342.7L162.7,342.7L164.5,343.4L165.4,343.3L165.4,332.2L159.7,331.1L157.3,329.4L156.4,329.2L151,329.4L149.2,328.6L142.8,327.6L139.2,326.2L136.5,326.3L129.3,325.2L127.5,325.6L121.2,325.4L117.6,324.2L114.5,323.8L112.2,322.6L109.6,322L108.5,321.1L107.6,321L105.8,321.5L102.2,321.4L101.4,321.1L101,319.3L98.3,316.6L94.9,314.8L94.1,314.1L93.2,312.5L92.3,312L87.8,312.5L85.1,312L83.3,312.6L80.6,312.5L78.8,313L77.9,312.9L75.4,311.2L74,309.4L72.4,308.9L71.5,309L69.7,310.3L68.7,311.2L67.9,312.9L67,313.3L66.1,312.6L65.7,311.2L65.2,310.9L64.4,312.1L64.3,313.2L65.2,315.1L66.1,316.1L67.1,316.6L69.7,316.4L73,317.5L75.2,319.3L77.2,320.2L77.6,321.1L77,322.4L76.1,322L75.2,322.2L75.1,323.8L74.8,324.7L73.9,325.6L73.5,328.3L73.1,329.2L73.1,330.2L73.8,331.1L73.7,332L72.5,332.9L72.3,333.8L73.3,335.3L73.6,336.5L74.9,338.3L78.2,341L80,343.7ZM77,324.8L76.9,323.8L77.9,322.4L79.1,323.8L78.8,324.4L77.9,325ZM79.7,329.4L78.8,328.5L78.6,327.4L80.6,326.2L81.5,326.4L81.9,327.4L81.6,328.3L80.6,329.2ZM66.2,324.7L67,324.8L67.2,324.7L67,324.6ZM69.7,322.9L70.6,323.6L71.4,322.9L70.6,322.5ZM49.6,317.5L50.8,317.7L51.7,317.4L53.3,315.7L53.4,314.8L51.7,313L49.9,312.7L48.8,313L47.8,313.9L47.4,315.7L48,316.6ZM126.8,258.9L128.4,259.3L131.1,259L134.7,259.2L137.4,258.4L139.2,258.8L140.5,258L125.8,258ZM142.8,258L143.7,258.4L144.6,258.4L146.6,258Z" fill="#c7e0ed" fill-rule="evenodd"/>
<path d="M35.4,344.6L36.3,344.7L37.2,343.7L37.2,342.8L36.3,340.8L35.4,343ZM96.7,341.9L97.7,342L99.5,341.3L101.3,341.3L104.9,340.4L108.5,340.3L111.2,339.6L114.9,339.1L118.5,337.7L120.1,339.2L122.1,339.6L124.8,339.7L127.5,338.2L128.4,338.2L130.2,338.8L132,338.8L134.7,339.9L140.1,338.8L145.5,339.6L148.3,340.9L149.2,341L152.8,341L155.5,340.6L160,341.3L161.8,341.1L164.5,341.4L165.4,341.2L165.4,333L162.7,332.8L159.1,331.9L156.4,330.2L151,330.2L149.2,329.5L143.7,329L139.2,327.3L136.5,327.3L129.3,326.3L127.5,326.5L121.2,326.2L116.7,325L114,325L111.2,324L109.4,323.8L107.6,323.1L104,323.1L99.5,323.7L98.6,323.6L97.6,322.9L98.3,321.1L97.7,320.4L95.9,320.5L94.1,318.4L92.3,317.7L91.5,314.8L90.5,314.2L88.7,313.8L82.4,314.4L80.6,313.8L77.9,314.4L76.3,313.9L73.3,310.4L72.4,310L70.6,310.7L69.6,312.1L69.4,313L69.9,314.8L71,315.7L74.2,317L76.1,318.4L77.9,319.1L80.6,321.7L81.5,321.7L87.8,319.7L89.6,318.5L90.5,318.7L91.1,319.3L92.1,322.9L90.3,324.7L90.1,325.6L90.5,330.2L91.7,331.1L92.1,332L91.9,333.8L87.8,335.3L87,334.7L85.8,329.2L85.1,328.6L84.2,329.3L82.6,332L82.8,332.9L84.3,333.8L84.4,334.7L79.7,336.8L77,336.6L76.5,337.4L77,338.2L78.8,338.9L80.6,340.7L82.4,341.6L83.3,341.6L86,340.4L87.8,340.8L95,340.7ZM32.1,339.2L32.7,340L34.5,339.7L35.4,339.1L36.3,339L39,339.1L41.8,337.4L44.5,336.8L44.7,336.5L43.6,335.6L42.7,335.6L41.8,336.1L39,334.9L37.2,335.2L32.7,334.8L31.5,335.6L32.1,337.4ZM25.2,337.4L25.5,338.1L27,337.4L27.8,334.7L27.3,333.9L26.4,333.7L25.5,334ZM75.8,333.8L76.1,333.9L77.1,332.9L77,331.7L76.1,331.6L75.8,332L75.4,332.9ZM23.6,331.1L24.6,331.9L25.5,331.6L26.1,331.1L26.6,330.2L26.4,327.4L25.5,326.9L23.2,329.2ZM76.5,329.2L77,329.4L77,329.2L77,329.2ZM49.1,316.6L50.8,317L51.7,316.5L52.2,315.7L52.3,314.8L51.7,313.9L50.8,313.4L49.9,313.3L48.7,313.9L48.3,314.8L48.3,315.7Z" fill="#97c8df" fill-rule="evenodd"/>
<path d="M96.7,340.1L97.7,340.3L99.5,339.4L102.2,339.6L106.6,336.5L106.6,335.6L105.8,334.4L104.9,334.1L104,334.2L102.8,332.9L103.9,330.2L103.1,329.3L101.3,328.8L100.4,329.1L99.5,330.9L98.6,331.3L97.7,331.1L95,333.2L94.1,334.7L93.2,335.4L86,337L82.4,337.1L81.6,338.3L82,339.2L83.3,340L86,339L87.8,339.7L90.5,339.4L92.3,339.8L95,339.3ZM158.1,340.1L160,340.3L164.5,339.8L165.4,339.3L165.4,334L162.7,333.7L158.2,332.4L156.4,331.3L151,330.8L148.3,330L143.7,329.8L139.2,328.2L129.3,327.1L127.5,327.3L122.1,326.9L116.7,325.9L109.4,325.6L104,324.6L103.1,324.8L102.7,325.6L103.1,327.7L104,328.3L106.7,328.5L107.8,330.2L108.9,331.1L112.2,332.3L116,332.9L118.5,333.6L127.5,334.4L128.3,334.7L130.2,336.6L134.7,338.3L140.1,337.7L142.8,338.3L145.5,338.3L149.2,339.8L155.5,339.7ZM93,327.4L93.2,327.7L93.7,327.4L94.1,326.5L93.2,326L92.8,326.5ZM79.6,319.3L80.6,319.8L81.5,319.7L84.2,319.3L86.9,318.4L89.4,316.6L89.5,315.7L88.7,315.2L82.4,315.4L79.7,315L76.8,315.7L76.1,316.2L76.1,316.7ZM49.2,315.7L49.9,316.2L50.8,316.2L51.3,315.7L51.5,314.8L50.8,314.1L49.9,313.9L49,314.8ZM71.3,314.8L72.4,315.3L73.3,315.2L74.2,314.5L74.2,313L73.3,311.7L72.4,311.1L71.5,311.2L70.6,312.3L70.6,313.9Z" fill="#5ba2cb" fill-rule="evenodd"/>
<path d="M158.3,339.2L160.9,339.3L164,338.3L165.4,336.5L165.2,335.6L160,333.5L153.7,331.7L151,331.5L148.3,330.7L142.8,330.4L138.3,328.9L129.3,327.8L122.1,327.6L116.7,326.6L111.2,326.8L109.7,327.4L109,328.3L109.2,329.2L110.2,330.2L112.2,331L118.5,332.6L123.9,332.9L129.1,333.8L132,335.3L133.8,336.6L140.1,336.7L146.4,337.6L149.2,338.7L154.6,338.7ZM92.2,338.3L93.2,338.4L95,337.9L96.8,338.5L99.5,337.8L101.3,338.2L102.7,337.4L102.9,336.5L102.2,335.1L101.3,334.7L98.6,335.8L95.9,335.7L94.1,337L92.4,337.4ZM80.3,318.4L81.5,318.6L84.2,318.1L85.3,317.5L85,316.6L84.2,316.4L80.6,316.2L78.9,316.6L79.3,317.5ZM71.7,313.9L72.4,314.2L73,313.9L73.1,313L72.4,312.2L71.4,313Z" fill="#337eb8" fill-rule="evenodd"/>
<path d="M158.6,338.3L160,338.5L161.1,338.3L162.4,337.4L162.2,336.5L160,334.5L152.8,332.3L151,332.2L146.4,331.1L142.8,331.1L138.3,329.7L132.9,329.4L129.3,328.6L126.6,328.7L122.1,328.2L117.6,327.4L115,327.4L111.1,328.3L111.2,329.3L118.5,332L123.9,331.9L126.6,332.6L130.2,333L134.7,335.2L141,335.9L146.4,336.9L149.2,337.7L151.9,338L155.5,337.8Z" fill="#1b5a9b" fill-rule="evenodd"/>
<path d="M148,336.5L151.9,337.1L154.6,336.7L159.1,337.1L159.9,336.5L159.1,335.4L153.7,333.3L151,332.9L147.3,331.9L143.7,332.1L137.4,330.5L132.9,330.7L128.4,329.4L123.9,329.6L118.5,328.2L115.8,328.3L115.3,329.2L116,330.2L117.6,331.1L119.4,331.3L122.1,330.4L123.9,330.4L127.5,331.7L132.9,332.3L134.9,333.8L136.5,334.5L141,334.9Z" fill="#053061" fill-rule="evenodd"/>
<path d="M19.2,256.1L94.1,256.1L94.1,258L93.7,260.7L91.8,262.8L90,264.6L86.9,267.3L84.7,269.3L80.9,270.9L79.3,270L77,271.1L76.1,271.8L74.8,273.3L74.6,274.6L72.4,275.8L70.6,276.7L70.5,277.4L72.1,278.5L73.9,280.9L74.2,283.2L73.7,284.7L72.3,285.2L70.6,285.6L68.8,286.1L68.5,285L69,283.2L68.5,281.8L69.2,280.3L67.4,280L66.1,279.6L66.7,278.3L66.5,276.9L65,276L63.4,276.4L61.1,277.4L59.4,278.2L60,276.9L61.1,275.3L60.3,274.4L58.9,274.6L56.2,276.5L54.4,277.6L52.9,278L53.1,279.2L55.1,280.5L55.8,281.2L58.4,280L60,280.7L61.8,280.9L61.4,281.8L58.9,282.3L57.6,283L55.8,284.7L55.8,285.6L57.6,286.5L58.5,288.6L60.3,290.4L60.5,291.9L59.1,293L60.7,294.1L60.3,295.5L60,297.1L58.4,298.4L57.1,300.2L56.4,302.2L54.8,303.6L53.5,304.3L52,305.6L50.8,306.7L49,307.2L46.8,307.8L45.5,307.6L44.8,308.5L42.7,308.9L40.9,309.4L40,309.9L39.8,311.4L38.9,311.4L38.7,309.6L37.2,309.2L36,309.2L34.4,309.8L33.1,311.2L31.8,312.5L31.3,314.1L32.6,315.7L34,317.5L35.8,319.1L37.1,320.6L37.8,323.1L37.8,325.6L37.4,327.3L35.8,328.3L34,329.2L33.3,329.8L32.9,331.1L30.9,332L29.8,332.5L29.8,330.5L29.3,329.4L27.5,329.1L26.4,327.6L25.2,326.2L23.9,325.3L22.6,325.3L22.6,324L19.2,324ZM19.2,331.4L21.2,332.9L21.7,334.7L22.4,335.6L23.9,335.9L25,337L26.4,338.3L27.1,339.5L27.3,341L27.1,342.8L28,344.2L28.6,345.5L28.2,345.9L27.3,345.9L25.9,344.8L24.2,343.5L23.3,342.8L22.4,341.3L21.7,339.5L21.5,337.9L19.2,336.8ZM19.2,342.4L21,343.3L22.4,344.2L23.9,345L25,346L26.4,346.8L27.7,347.8L27.9,350L19.2,350ZM37.2,350L37.1,346.4L37.8,345L39.6,345.1L41.2,345.5L41.6,343.9L43.6,342.8L45,341.9L46.3,340.3L47.7,339.4L49,338.3L50.2,336.8L51.3,335.6L52.8,336.6L53.9,337.7L55.7,338.8L54,340.3L52.9,341.7L52.6,343.1L53.5,344.2L55.1,346.2L53.5,346.6L52.9,350ZM58.2,314.8L61.1,315L61.4,317L60.7,319L60,319.7L60.2,322.4L61.8,322.6L63.1,323.3L64.5,324.7L64.3,325.5L63.2,324.7L61.8,323.7L60.3,323.5L58.9,323.5L58.4,322.6L58.7,321.8L57.5,321.5L56.9,319.3L57.6,318.2L57.8,316.6ZM57.8,324L59.3,324L59.8,325.5L59.3,326.2L58.5,325.5ZM52,333L53.9,331.6L55.8,329.6L56.4,328L55.8,328L54.6,329.8L52.8,331.8ZM60.5,326.9L62.3,327.4L62.7,328.2L61.8,329.2L60.7,329.2ZM61.6,330.2L62.9,328.5L63.6,328.7L64.3,328L64.3,329.8L63.1,331.8L62.3,331.8ZM64.9,325.6L66.7,325.6L67.4,327.8L66.5,329.6L65.8,329.8L65.4,328ZM60.5,335.6L61.1,333.9L62.5,332.9L64,333.4L65.6,332.7L66.8,330.7L68.1,331.6L68.8,333.8L68.7,335.7L68.1,336.8L67.2,337.2L66.8,338.1L66.5,337.4L67,335.9L66.5,335.6L64.7,336.8L64.3,335.6L63.2,334.7L61.6,335ZM58.9,302.7L60.5,303.1L60,304.9L59.4,307L58.5,308.5L57.6,307.4L57.3,306.1L58,304.3ZM36.7,313.5L37.8,312.3L40.1,311.9L40.9,312.8L40,314.3L38.3,315.3L36.7,314.8ZM93.2,273.3L93,271.5L93.9,270.2L95.7,270L96.3,267.9L96.4,266.3L98.4,267.7L100.8,268.8L102.8,268.2L102.9,270L101.3,270.6L99.5,272L99,272.4L96.8,271.5L95,271.7L95.2,272.8L93.9,273.3ZM93.7,273.7L95.7,273.5L95.9,275.3L96.8,276.9L96.1,278.9L95,279.2L95,281.4L94.3,282.9L94.8,283.8L93.9,284.7L93,285.2L92.8,284.1L91.8,284.7L91.2,285.7L90,285.7L88.3,285.7L87.6,285L87.1,285.9L87.6,286.3L86.5,287L85.6,287.7L84.4,287L84.5,285.7L82.9,285.6L80.9,286.1L79.1,286.8L77,286.8L76.8,286.1L78.4,285.6L80,284.3L81.5,284.1L83.3,283.9L84.7,283.8L86,283.8L86.3,282.7L87.4,281.6L88.3,280.5L87.8,281.6L88.9,281.4L90.7,280.7L92.1,279.2L93,277.4L93.2,276L93,274.9ZM79.5,288.1L80.4,289L81.6,287.7L82.7,288.1L83.6,287.2L83.1,286.3L81.6,286.5L80.2,287ZM74.6,288.1L75.9,287.2L77,287L78.2,287.7L78.6,289L77.7,291.3L76.6,292.1L75.5,291.7L75.7,290.1L74.8,289.2ZM96.8,256.1L97.2,259.8L96.8,261.6L97,263.4L96.6,265.2L97.9,263.9L99.3,263.7L98.6,262.5L97.9,261.6L99,259.4L100.4,259.4L100.4,256.1ZM56.7,350L57.1,346.6L58.5,345.9L60.7,346.2L63.4,346.6L65.4,345.7L66.5,345.3L65.9,346.6L64.9,347.5L62.5,347.3L59.8,347.3L58,347.3L57.5,350ZM70.5,350L70.6,346.4L71.4,344.2L72.1,345.3L72.8,345.5L71.7,346.6L72.8,347.7L71.9,350Z" fill="#808080"/>
<path d="M130.5,259.1h1.3v1.3h-1.3zM134.1,259.1h1.3v1.3h-1.3zM137.7,259.1h1.3v1.3h-1.3zM141.3,259.1h1.3v1.3h-1.3zM144.9,259.1h1.3v1.3h-1.3zM148.5,259.1h1.3v1.3h-1.3zM134.1,262.7h1.3v1.3h-1.3zM137.7,262.7h1.3v1.3h-1.3zM141.3,262.7h1.3v1.3h-1.3zM76.3,273.5h1.3v1.3h-1.3zM79.9,273.5h1.3v1.3h-1.3zM83.5,273.5h1.3v1.3h-1.3zM65.5,277.2h1.3v1.3h-1.3zM65.5,280.8h1.3v1.3h-1.3zM116,280.8h1.3v1.3h-1.3zM137.7,284.4h1.3v1.3h-1.3zM141.3,291.6h1.3v1.3h-1.3zM83.5,295.2h1.3v1.3h-1.3zM141.3,295.2h1.3v1.3h-1.3zM159.3,295.2h1.3v1.3h-1.3zM79.9,302.4h1.3v1.3h-1.3zM83.5,302.4h1.3v1.3h-1.3zM155.7,302.4h1.3v1.3h-1.3zM159.3,302.4h1.3v1.3h-1.3zM162.9,302.4h1.3v1.3h-1.3zM130.5,306h1.3v1.3h-1.3zM148.5,306h1.3v1.3h-1.3zM152.1,306h1.3v1.3h-1.3zM155.7,306h1.3v1.3h-1.3zM159.3,306h1.3v1.3h-1.3zM162.9,306h1.3v1.3h-1.3zM79.9,309.6h1.3v1.3h-1.3zM126.8,309.6h1.3v1.3h-1.3zM130.5,309.6h1.3v1.3h-1.3zM134.1,309.6h1.3v1.3h-1.3zM137.7,309.6h1.3v1.3h-1.3zM141.3,309.6h1.3v1.3h-1.3zM144.9,309.6h1.3v1.3h-1.3zM148.5,309.6h1.3v1.3h-1.3zM152.1,309.6h1.3v1.3h-1.3zM155.7,309.6h1.3v1.3h-1.3zM159.3,309.6h1.3v1.3h-1.3zM162.9,309.6h1.3v1.3h-1.3zM141.3,313.3h1.3v1.3h-1.3zM144.9,313.3h1.3v1.3h-1.3zM148.5,313.3h1.3v1.3h-1.3zM152.1,313.3h1.3v1.3h-1.3zM155.7,313.3h1.3v1.3h-1.3zM159.3,313.3h1.3v1.3h-1.3zM162.9,313.3h1.3v1.3h-1.3zM79.9,316.9h1.3v1.3h-1.3zM83.5,316.9h1.3v1.3h-1.3zM87.1,316.9h1.3v1.3h-1.3zM94.4,316.9h1.3v1.3h-1.3zM134.1,316.9h1.3v1.3h-1.3zM137.7,316.9h1.3v1.3h-1.3zM141.3,316.9h1.3v1.3h-1.3zM144.9,316.9h1.3v1.3h-1.3zM148.5,316.9h1.3v1.3h-1.3zM152.1,316.9h1.3v1.3h-1.3zM155.7,316.9h1.3v1.3h-1.3zM159.3,316.9h1.3v1.3h-1.3zM162.9,316.9h1.3v1.3h-1.3zM155.7,320.5h1.3v1.3h-1.3zM159.3,320.5h1.3v1.3h-1.3zM40.2,324.1h1.3v1.3h-1.3zM25.8,327.7h1.3v1.3h-1.3zM105.2,327.7h1.3v1.3h-1.3zM108.8,327.7h1.3v1.3h-1.3zM112.4,327.7h1.3v1.3h-1.3zM116,327.7h1.3v1.3h-1.3zM119.6,327.7h1.3v1.3h-1.3zM123.2,327.7h1.3v1.3h-1.3zM126.8,327.7h1.3v1.3h-1.3zM130.5,327.7h1.3v1.3h-1.3zM61.9,331.3h1.3v1.3h-1.3zM101.6,331.3h1.3v1.3h-1.3zM116,331.3h1.3v1.3h-1.3zM119.6,331.3h1.3v1.3h-1.3zM123.2,331.3h1.3v1.3h-1.3zM126.8,331.3h1.3v1.3h-1.3zM130.5,331.3h1.3v1.3h-1.3zM134.1,331.3h1.3v1.3h-1.3zM137.7,331.3h1.3v1.3h-1.3zM141.3,331.3h1.3v1.3h-1.3zM144.9,331.3h1.3v1.3h-1.3zM148.5,331.3h1.3v1.3h-1.3zM90.7,334.9h1.3v1.3h-1.3zM94.4,334.9h1.3v1.3h-1.3zM98,334.9h1.3v1.3h-1.3zM101.6,334.9h1.3v1.3h-1.3zM105.2,334.9h1.3v1.3h-1.3zM119.6,334.9h1.3v1.3h-1.3zM123.2,334.9h1.3v1.3h-1.3zM126.8,334.9h1.3v1.3h-1.3zM130.5,334.9h1.3v1.3h-1.3zM134.1,334.9h1.3v1.3h-1.3zM137.7,334.9h1.3v1.3h-1.3zM141.3,334.9h1.3v1.3h-1.3zM144.9,334.9h1.3v1.3h-1.3zM148.5,334.9h1.3v1.3h-1.3zM152.1,334.9h1.3v1.3h-1.3zM155.7,334.9h1.3v1.3h-1.3zM159.3,334.9h1.3v1.3h-1.3zM162.9,334.9h1.3v1.3h-1.3zM76.3,338.5h1.3v1.3h-1.3zM79.9,338.5h1.3v1.3h-1.3zM83.5,338.5h1.3v1.3h-1.3zM87.1,338.5h1.3v1.3h-1.3zM94.4,338.5h1.3v1.3h-1.3zM98,338.5h1.3v1.3h-1.3zM101.6,338.5h1.3v1.3h-1.3zM105.2,338.5h1.3v1.3h-1.3zM126.8,338.5h1.3v1.3h-1.3zM130.5,338.5h1.3v1.3h-1.3zM134.1,338.5h1.3v1.3h-1.3zM137.7,338.5h1.3v1.3h-1.3zM141.3,338.5h1.3v1.3h-1.3zM159.3,338.5h1.3v1.3h-1.3zM162.9,338.5h1.3v1.3h-1.3zM69.1,342.1h1.3v1.3h-1.3zM72.7,342.1h1.3v1.3h-1.3zM76.3,342.1h1.3v1.3h-1.3zM79.9,342.1h1.3v1.3h-1.3z" fill="#000"/>
<rect x="111.2" y="326.5" width="54.2" height="14.4" fill="none" stroke="#000" stroke-width="2.15"/>
<rect x="125.7" y="308.5" width="39.7" height="14.4" fill="none" stroke="#000" stroke-width="2.15"/>
</g>
<rect x="21" y="257.8" width="144.4" height="90.4" fill="none" stroke="#2a2a2a" stroke-width="0.7"/>
<line x1="18.6" y1="257.95" x2="21" y2="257.95" stroke="#2a2a2a" stroke-width="0.6"/>
<text x="15.8" y="260.15" font-size="7.0" text-anchor="end" stroke="#111" stroke-width="0.18" >50°N</text>
<line x1="18.6" y1="276" x2="21" y2="276" stroke="#2a2a2a" stroke-width="0.6"/>
<text x="15.8" y="278.2" font-size="7.0" text-anchor="end" stroke="#111" stroke-width="0.18" >40°N</text>
<line x1="18.6" y1="294.05" x2="21" y2="294.05" stroke="#2a2a2a" stroke-width="0.6"/>
<text x="15.8" y="296.25" font-size="7.0" text-anchor="end" stroke="#111" stroke-width="0.18" >30°N</text>
<line x1="18.6" y1="312.1" x2="21" y2="312.1" stroke="#2a2a2a" stroke-width="0.6"/>
<text x="15.8" y="314.3" font-size="7.0" text-anchor="end" stroke="#111" stroke-width="0.18" >20°N</text>
<line x1="18.6" y1="330.15" x2="21" y2="330.15" stroke="#2a2a2a" stroke-width="0.6"/>
<text x="15.8" y="332.35" font-size="7.0" text-anchor="end" stroke="#111" stroke-width="0.18" >10°N</text>
<line x1="18.6" y1="348.2" x2="21" y2="348.2" stroke="#2a2a2a" stroke-width="0.6"/>
<text x="15.8" y="350.4" font-size="7.0" text-anchor="end" stroke="#111" stroke-width="0.18" >0°</text>
<line x1="21" y1="348.2" x2="21" y2="350.6" stroke="#2a2a2a" stroke-width="0.6"/>
<text x="21" y="358.2" font-size="7.0" text-anchor="middle" stroke="#111" stroke-width="0.18" >100°E</text>
<line x1="57.1" y1="348.2" x2="57.1" y2="350.6" stroke="#2a2a2a" stroke-width="0.6"/>
<text x="57.1" y="358.2" font-size="7.0" text-anchor="middle" stroke="#111" stroke-width="0.18" >120°E</text>
<line x1="93.2" y1="348.2" x2="93.2" y2="350.6" stroke="#2a2a2a" stroke-width="0.6"/>
<text x="93.2" y="358.2" font-size="7.0" text-anchor="middle" stroke="#111" stroke-width="0.18" >140°E</text>
<line x1="129.3" y1="348.2" x2="129.3" y2="350.6" stroke="#2a2a2a" stroke-width="0.6"/>
<text x="129.3" y="358.2" font-size="7.0" text-anchor="middle" stroke="#111" stroke-width="0.18" >160°E</text>
<line x1="165.4" y1="348.2" x2="165.4" y2="350.6" stroke="#2a2a2a" stroke-width="0.6"/>
<text x="165.4" y="358.2" font-size="7.0" text-anchor="middle" stroke="#111" stroke-width="0.18" >180°</text>
<text x="208.3" y="6.95" font-size="8.45" text-anchor="start" stroke="#111" stroke-width="0.18" >(b)Area A</text>
<rect x="214.19" y="56.25" width="19.62" height="41.7" fill="#1400a2"/>
<rect x="238.71" y="56.25" width="19.62" height="11.3" fill="#1400a2"/>
<rect x="263.24" y="56.25" width="19.62" height="3.6" fill="#1400a2"/>
<rect x="287.77" y="56.25" width="19.62" height="21.6" fill="#1400a2"/>
<rect x="312.29" y="56.25" width="19.62" height="8.1" fill="#1400a2"/>
<line x1="208.3" y1="56.25" x2="337.8" y2="56.25" stroke="#000" stroke-width="0.7" stroke-dasharray="2.2,0.9,0.6,0.9"/>
<rect x="208.3" y="11.05" width="129.5" height="90.4" fill="none" stroke="#2a2a2a" stroke-width="0.7"/>
<line x1="205.9" y1="11.05" x2="208.3" y2="11.05" stroke="#2a2a2a" stroke-width="0.6"/>
<text x="203.3" y="13.2" font-size="7.0" text-anchor="end" stroke="#111" stroke-width="0.18" >1.8</text>
<line x1="205.9" y1="26.12" x2="208.3" y2="26.12" stroke="#2a2a2a" stroke-width="0.6"/>
<text x="203.3" y="28.27" font-size="7.0" text-anchor="end" stroke="#111" stroke-width="0.18" >1.2</text>
<line x1="205.9" y1="41.18" x2="208.3" y2="41.18" stroke="#2a2a2a" stroke-width="0.6"/>
<text x="203.3" y="43.33" font-size="7.0" text-anchor="end" stroke="#111" stroke-width="0.18" >0.6</text>
<line x1="205.9" y1="56.25" x2="208.3" y2="56.25" stroke="#2a2a2a" stroke-width="0.6"/>
<text x="203.3" y="58.4" font-size="7.0" text-anchor="end" stroke="#111" stroke-width="0.18" >0.0</text>
<line x1="205.9" y1="71.32" x2="208.3" y2="71.32" stroke="#2a2a2a" stroke-width="0.6"/>
<text x="203.3" y="73.47" font-size="7.0" text-anchor="end" stroke="#111" stroke-width="0.18" >−0.6</text>
<line x1="205.9" y1="86.38" x2="208.3" y2="86.38" stroke="#2a2a2a" stroke-width="0.6"/>
<text x="203.3" y="88.53" font-size="7.0" text-anchor="end" stroke="#111" stroke-width="0.18" >−1.2</text>
<line x1="205.9" y1="101.45" x2="208.3" y2="101.45" stroke="#2a2a2a" stroke-width="0.6"/>
<text x="203.3" y="103.6" font-size="7.0" text-anchor="end" stroke="#111" stroke-width="0.18" >−1.8</text>
<line x1="224" y1="101.45" x2="224" y2="103.85" stroke="#2a2a2a" stroke-width="0.6"/>
<text x="224" y="111.75" font-size="7.0" text-anchor="middle" stroke="#111" stroke-width="0.18" >Total</text>
<line x1="248.52" y1="101.45" x2="248.52" y2="103.85" stroke="#2a2a2a" stroke-width="0.6"/>
<text x="248.52" y="111.75" font-size="7.0" text-anchor="middle" stroke="#111" stroke-width="0.18" >VWS</text>
<line x1="273.05" y1="101.45" x2="273.05" y2="103.85" stroke="#2a2a2a" stroke-width="0.6"/>
<text x="273.05" y="111.75" font-size="7.0" text-anchor="middle" stroke="#111" stroke-width="0.18" >MZW</text>
<line x1="297.58" y1="101.45" x2="297.58" y2="103.85" stroke="#2a2a2a" stroke-width="0.6"/>
<text x="297.58" y="111.75" font-size="7.0" text-anchor="middle" stroke="#111" stroke-width="0.18" >Omega</text>
<line x1="322.1" y1="101.45" x2="322.1" y2="103.85" stroke="#2a2a2a" stroke-width="0.6"/>
<text x="322.1" y="111.75" font-size="7.0" text-anchor="middle" stroke="#111" stroke-width="0.18" >Vor</text>
<polygon points="224.6,13.95 225.18,15.74 227.07,15.75 225.55,16.86 226.13,18.65 224.6,17.55 223.07,18.65 223.65,16.86 222.12,15.75 224.01,15.74" fill="#8c1414" stroke="#8c1414" stroke-width="0.45" stroke-linejoin="miter"/>
<polygon points="249.12,13.95 249.71,15.74 251.6,15.75 250.07,16.86 250.65,18.65 249.12,17.55 247.6,18.65 248.17,16.86 246.65,15.75 248.54,15.74" fill="#8c1414" stroke="#8c1414" stroke-width="0.45" stroke-linejoin="miter"/>
<polygon points="298.18,13.95 298.76,15.74 300.65,15.75 299.13,16.86 299.7,18.65 298.18,17.55 296.65,18.65 297.23,16.86 295.7,15.75 297.59,15.74" fill="#8c1414" stroke="#8c1414" stroke-width="0.45" stroke-linejoin="miter"/>
<polygon points="322.7,13.95 323.29,15.74 325.18,15.75 323.65,16.86 324.23,18.65 322.7,17.55 321.17,18.65 321.75,16.86 320.23,15.75 322.12,15.74" fill="#8c1414" stroke="#8c1414" stroke-width="0.45" stroke-linejoin="miter"/>
<text x="381.45" y="6.95" font-size="8.45" text-anchor="start" stroke="#111" stroke-width="0.18" >(c)Area B</text>
<rect x="387.34" y="32.65" width="19.62" height="23.6" fill="#8c130c"/>
<rect x="411.86" y="56.25" width="19.62" height="9.1" fill="#1400a2"/>
<rect x="436.39" y="45.55" width="19.62" height="10.7" fill="#8c130c"/>
<rect x="460.92" y="37.85" width="19.62" height="18.4" fill="#8c130c"/>
<rect x="485.44" y="52.45" width="19.62" height="3.8" fill="#8c130c"/>
<line x1="381.45" y1="56.25" x2="510.95" y2="56.25" stroke="#000" stroke-width="0.7" stroke-dasharray="2.2,0.9,0.6,0.9"/>
<rect x="381.45" y="11.05" width="129.5" height="90.4" fill="none" stroke="#2a2a2a" stroke-width="0.7"/>
<line x1="379.05" y1="11.05" x2="381.45" y2="11.05" stroke="#2a2a2a" stroke-width="0.6"/>
<text x="376.45" y="13.2" font-size="7.0" text-anchor="end" stroke="#111" stroke-width="0.18" >0.6</text>
<line x1="379.05" y1="26.12" x2="381.45" y2="26.12" stroke="#2a2a2a" stroke-width="0.6"/>
<text x="376.45" y="28.27" font-size="7.0" text-anchor="end" stroke="#111" stroke-width="0.18" >0.4</text>
<line x1="379.05" y1="41.18" x2="381.45" y2="41.18" stroke="#2a2a2a" stroke-width="0.6"/>
<text x="376.45" y="43.33" font-size="7.0" text-anchor="end" stroke="#111" stroke-width="0.18" >0.2</text>
<line x1="379.05" y1="56.25" x2="381.45" y2="56.25" stroke="#2a2a2a" stroke-width="0.6"/>
<text x="376.45" y="58.4" font-size="7.0" text-anchor="end" stroke="#111" stroke-width="0.18" >0.0</text>
<line x1="379.05" y1="71.32" x2="381.45" y2="71.32" stroke="#2a2a2a" stroke-width="0.6"/>
<text x="376.45" y="73.47" font-size="7.0" text-anchor="end" stroke="#111" stroke-width="0.18" >−0.2</text>
<line x1="379.05" y1="86.38" x2="381.45" y2="86.38" stroke="#2a2a2a" stroke-width="0.6"/>
<text x="376.45" y="88.53" font-size="7.0" text-anchor="end" stroke="#111" stroke-width="0.18" >−0.4</text>
<line x1="379.05" y1="101.45" x2="381.45" y2="101.45" stroke="#2a2a2a" stroke-width="0.6"/>
<text x="376.45" y="103.6" font-size="7.0" text-anchor="end" stroke="#111" stroke-width="0.18" >−0.6</text>
<line x1="397.15" y1="101.45" x2="397.15" y2="103.85" stroke="#2a2a2a" stroke-width="0.6"/>
<text x="397.15" y="111.75" font-size="7.0" text-anchor="middle" stroke="#111" stroke-width="0.18" >Total</text>
<line x1="421.67" y1="101.45" x2="421.67" y2="103.85" stroke="#2a2a2a" stroke-width="0.6"/>
<text x="421.67" y="111.75" font-size="7.0" text-anchor="middle" stroke="#111" stroke-width="0.18" >VWS</text>
<line x1="446.2" y1="101.45" x2="446.2" y2="103.85" stroke="#2a2a2a" stroke-width="0.6"/>
<text x="446.2" y="111.75" font-size="7.0" text-anchor="middle" stroke="#111" stroke-width="0.18" >MZW</text>
<line x1="470.73" y1="101.45" x2="470.73" y2="103.85" stroke="#2a2a2a" stroke-width="0.6"/>
<text x="470.73" y="111.75" font-size="7.0" text-anchor="middle" stroke="#111" stroke-width="0.18" >Omega</text>
<line x1="495.25" y1="101.45" x2="495.25" y2="103.85" stroke="#2a2a2a" stroke-width="0.6"/>
<text x="495.25" y="111.75" font-size="7.0" text-anchor="middle" stroke="#111" stroke-width="0.18" >Vor</text>
<polygon points="397.75,14.05 398.33,15.84 400.22,15.85 398.7,16.96 399.28,18.75 397.75,17.65 396.22,18.75 396.8,16.96 395.27,15.85 397.16,15.84" fill="#8c1414" stroke="#8c1414" stroke-width="0.45" stroke-linejoin="miter"/>
<polygon points="422.27,14.05 422.86,15.84 424.75,15.85 423.22,16.96 423.8,18.75 422.27,17.65 420.75,18.75 421.32,16.96 419.8,15.85 421.69,15.84" fill="#8c1414" stroke="#8c1414" stroke-width="0.45" stroke-linejoin="miter"/>
<polygon points="446.8,14.05 447.39,15.84 449.27,15.85 447.75,16.96 448.33,18.75 446.8,17.65 445.27,18.75 445.85,16.96 444.33,15.85 446.21,15.84" fill="#8c1414" stroke="#8c1414" stroke-width="0.45" stroke-linejoin="miter"/>
<polygon points="471.33,14.05 471.91,15.84 473.8,15.85 472.28,16.96 472.85,18.75 471.33,17.65 469.8,18.75 470.38,16.96 468.85,15.85 470.74,15.84" fill="#8c1414" stroke="#8c1414" stroke-width="0.45" stroke-linejoin="miter"/>
<polygon points="495.85,14.05 496.44,15.84 498.33,15.85 496.8,16.96 497.38,18.75 495.85,17.65 494.32,18.75 494.9,16.96 493.38,15.85 495.27,15.84" fill="#8c1414" stroke="#8c1414" stroke-width="0.45" stroke-linejoin="miter"/>
<text x="554.6" y="6.95" font-size="8.45" text-anchor="start" stroke="#111" stroke-width="0.18" >(d)Area B-A</text>
<rect x="560.49" y="18.65" width="19.62" height="37.6" fill="#8c130c"/>
<rect x="585.01" y="49.85" width="19.62" height="6.4" fill="#8c130c"/>
<rect x="609.54" y="50.85" width="19.62" height="5.4" fill="#8c130c"/>
<rect x="634.07" y="35" width="19.62" height="21.25" fill="#8c130c"/>
<rect x="658.59" y="48.85" width="19.62" height="7.4" fill="#8c130c"/>
<line x1="554.6" y1="56.25" x2="684.1" y2="56.25" stroke="#000" stroke-width="0.7" stroke-dasharray="2.2,0.9,0.6,0.9"/>
<rect x="554.6" y="11.05" width="129.5" height="90.4" fill="none" stroke="#2a2a2a" stroke-width="0.7"/>
<line x1="552.2" y1="11.05" x2="554.6" y2="11.05" stroke="#2a2a2a" stroke-width="0.6"/>
<text x="549.6" y="13.2" font-size="7.0" text-anchor="end" stroke="#111" stroke-width="0.18" >2.4</text>
<line x1="552.2" y1="26.12" x2="554.6" y2="26.12" stroke="#2a2a2a" stroke-width="0.6"/>
<text x="549.6" y="28.27" font-size="7.0" text-anchor="end" stroke="#111" stroke-width="0.18" >1.6</text>
<line x1="552.2" y1="41.18" x2="554.6" y2="41.18" stroke="#2a2a2a" stroke-width="0.6"/>
<text x="549.6" y="43.33" font-size="7.0" text-anchor="end" stroke="#111" stroke-width="0.18" >0.8</text>
<line x1="552.2" y1="56.25" x2="554.6" y2="56.25" stroke="#2a2a2a" stroke-width="0.6"/>
<text x="549.6" y="58.4" font-size="7.0" text-anchor="end" stroke="#111" stroke-width="0.18" >0.0</text>
<line x1="552.2" y1="71.32" x2="554.6" y2="71.32" stroke="#2a2a2a" stroke-width="0.6"/>
<text x="549.6" y="73.47" font-size="7.0" text-anchor="end" stroke="#111" stroke-width="0.18" >−0.8</text>
<line x1="552.2" y1="86.38" x2="554.6" y2="86.38" stroke="#2a2a2a" stroke-width="0.6"/>
<text x="549.6" y="88.53" font-size="7.0" text-anchor="end" stroke="#111" stroke-width="0.18" >−1.6</text>
<line x1="552.2" y1="101.45" x2="554.6" y2="101.45" stroke="#2a2a2a" stroke-width="0.6"/>
<text x="549.6" y="103.6" font-size="7.0" text-anchor="end" stroke="#111" stroke-width="0.18" >−2.4</text>
<line x1="570.3" y1="101.45" x2="570.3" y2="103.85" stroke="#2a2a2a" stroke-width="0.6"/>
<text x="570.3" y="111.75" font-size="7.0" text-anchor="middle" stroke="#111" stroke-width="0.18" >Total</text>
<line x1="594.82" y1="101.45" x2="594.82" y2="103.85" stroke="#2a2a2a" stroke-width="0.6"/>
<text x="594.82" y="111.75" font-size="7.0" text-anchor="middle" stroke="#111" stroke-width="0.18" >VWS</text>
<line x1="619.35" y1="101.45" x2="619.35" y2="103.85" stroke="#2a2a2a" stroke-width="0.6"/>
<text x="619.35" y="111.75" font-size="7.0" text-anchor="middle" stroke="#111" stroke-width="0.18" >MZW</text>
<line x1="643.88" y1="101.45" x2="643.88" y2="103.85" stroke="#2a2a2a" stroke-width="0.6"/>
<text x="643.88" y="111.75" font-size="7.0" text-anchor="middle" stroke="#111" stroke-width="0.18" >Omega</text>
<line x1="668.4" y1="101.45" x2="668.4" y2="103.85" stroke="#2a2a2a" stroke-width="0.6"/>
<text x="668.4" y="111.75" font-size="7.0" text-anchor="middle" stroke="#111" stroke-width="0.18" >Vor</text>
<polygon points="570.9,12.15 571.48,13.94 573.37,13.95 571.85,15.06 572.43,16.85 570.9,15.75 569.37,16.85 569.95,15.06 568.42,13.95 570.31,13.94" fill="#8c1414" stroke="#8c1414" stroke-width="0.45" stroke-linejoin="miter"/>
<polygon points="595.42,12.15 596.01,13.94 597.9,13.95 596.37,15.06 596.95,16.85 595.42,15.75 593.9,16.85 594.47,15.06 592.95,13.95 594.84,13.94" fill="#8c1414" stroke="#8c1414" stroke-width="0.45" stroke-linejoin="miter"/>
<polygon points="644.48,12.15 645.06,13.94 646.95,13.95 645.43,15.06 646,16.85 644.48,15.75 642.95,16.85 643.53,15.06 642,13.95 643.89,13.94" fill="#8c1414" stroke="#8c1414" stroke-width="0.45" stroke-linejoin="miter"/>
<polygon points="669,12.15 669.59,13.94 671.48,13.95 669.95,15.06 670.53,16.85 669,15.75 667.47,16.85 668.05,15.06 666.53,13.95 668.42,13.94" fill="#8c1414" stroke="#8c1414" stroke-width="0.45" stroke-linejoin="miter"/>
<text x="208.3" y="130.3" font-size="8.45" text-anchor="start" stroke="#111" stroke-width="0.18" >(f)Area A</text>
<rect x="214.19" y="179.6" width="19.62" height="39.4" fill="#1400a2"/>
<rect x="238.71" y="179.6" width="19.62" height="14.7" fill="#1400a2"/>
<rect x="263.24" y="179.6" width="19.62" height="8.9" fill="#1400a2"/>
<rect x="287.77" y="179.6" width="19.62" height="9.7" fill="#1400a2"/>
<rect x="312.29" y="175.6" width="19.62" height="4" fill="#8c130c"/>
<line x1="208.3" y1="179.6" x2="337.8" y2="179.6" stroke="#000" stroke-width="0.7" stroke-dasharray="2.2,0.9,0.6,0.9"/>
<rect x="208.3" y="134.4" width="129.5" height="90.4" fill="none" stroke="#2a2a2a" stroke-width="0.7"/>
<line x1="205.9" y1="134.4" x2="208.3" y2="134.4" stroke="#2a2a2a" stroke-width="0.6"/>
<text x="203.3" y="136.55" font-size="7.0" text-anchor="end" stroke="#111" stroke-width="0.18" >0.9</text>
<line x1="205.9" y1="149.47" x2="208.3" y2="149.47" stroke="#2a2a2a" stroke-width="0.6"/>
<text x="203.3" y="151.62" font-size="7.0" text-anchor="end" stroke="#111" stroke-width="0.18" >0.6</text>
<line x1="205.9" y1="164.53" x2="208.3" y2="164.53" stroke="#2a2a2a" stroke-width="0.6"/>
<text x="203.3" y="166.68" font-size="7.0" text-anchor="end" stroke="#111" stroke-width="0.18" >0.3</text>
<line x1="205.9" y1="179.6" x2="208.3" y2="179.6" stroke="#2a2a2a" stroke-width="0.6"/>
<text x="203.3" y="181.75" font-size="7.0" text-anchor="end" stroke="#111" stroke-width="0.18" >0.0</text>
<line x1="205.9" y1="194.67" x2="208.3" y2="194.67" stroke="#2a2a2a" stroke-width="0.6"/>
<text x="203.3" y="196.82" font-size="7.0" text-anchor="end" stroke="#111" stroke-width="0.18" >−0.3</text>
<line x1="205.9" y1="209.73" x2="208.3" y2="209.73" stroke="#2a2a2a" stroke-width="0.6"/>
<text x="203.3" y="211.88" font-size="7.0" text-anchor="end" stroke="#111" stroke-width="0.18" >−0.6</text>
<line x1="205.9" y1="224.8" x2="208.3" y2="224.8" stroke="#2a2a2a" stroke-width="0.6"/>
<text x="203.3" y="226.95" font-size="7.0" text-anchor="end" stroke="#111" stroke-width="0.18" >−0.9</text>
<line x1="224" y1="224.8" x2="224" y2="227.2" stroke="#2a2a2a" stroke-width="0.6"/>
<text x="224" y="235.1" font-size="7.0" text-anchor="middle" stroke="#111" stroke-width="0.18" >Total</text>
<line x1="248.52" y1="224.8" x2="248.52" y2="227.2" stroke="#2a2a2a" stroke-width="0.6"/>
<text x="248.52" y="235.1" font-size="7.0" text-anchor="middle" stroke="#111" stroke-width="0.18" >VWS</text>
<line x1="273.05" y1="224.8" x2="273.05" y2="227.2" stroke="#2a2a2a" stroke-width="0.6"/>
<text x="273.05" y="235.1" font-size="7.0" text-anchor="middle" stroke="#111" stroke-width="0.18" >MZW</text>
<line x1="297.58" y1="224.8" x2="297.58" y2="227.2" stroke="#2a2a2a" stroke-width="0.6"/>
<text x="297.58" y="235.1" font-size="7.0" text-anchor="middle" stroke="#111" stroke-width="0.18" >Omega</text>
<line x1="322.1" y1="224.8" x2="322.1" y2="227.2" stroke="#2a2a2a" stroke-width="0.6"/>
<text x="322.1" y="235.1" font-size="7.0" text-anchor="middle" stroke="#111" stroke-width="0.18" >Vor</text>
<polygon points="224.6,137.1 225.18,138.89 227.07,138.9 225.55,140.01 226.13,141.8 224.6,140.7 223.07,141.8 223.65,140.01 222.12,138.9 224.01,138.89" fill="#8c1414" stroke="#8c1414" stroke-width="0.45" stroke-linejoin="miter"/>
<polygon points="249.12,137.1 249.71,138.89 251.6,138.9 250.07,140.01 250.65,141.8 249.12,140.7 247.6,141.8 248.17,140.01 246.65,138.9 248.54,138.89" fill="#8c1414" stroke="#8c1414" stroke-width="0.45" stroke-linejoin="miter"/>
<polygon points="273.65,137.1 274.24,138.89 276.12,138.9 274.6,140.01 275.18,141.8 273.65,140.7 272.12,141.8 272.7,140.01 271.18,138.9 273.06,138.89" fill="#8c1414" stroke="#8c1414" stroke-width="0.45" stroke-linejoin="miter"/>
<polygon points="298.18,137.1 298.76,138.89 300.65,138.9 299.13,140.01 299.7,141.8 298.18,140.7 296.65,141.8 297.23,140.01 295.7,138.9 297.59,138.89" fill="#8c1414" stroke="#8c1414" stroke-width="0.45" stroke-linejoin="miter"/>
<polygon points="322.7,137.1 323.29,138.89 325.18,138.9 323.65,140.01 324.23,141.8 322.7,140.7 321.17,141.8 321.75,140.01 320.23,138.9 322.12,138.89" fill="#8c1414" stroke="#8c1414" stroke-width="0.45" stroke-linejoin="miter"/>
<text x="381.45" y="130.3" font-size="8.45" text-anchor="start" stroke="#111" stroke-width="0.18" >(g)Area B</text>
<rect x="387.34" y="149.1" width="19.62" height="30.5" fill="#8c130c"/>
<rect x="411.86" y="166.6" width="19.62" height="13" fill="#8c130c"/>
<rect x="436.39" y="176.8" width="19.62" height="2.8" fill="#8c130c"/>
<rect x="460.92" y="171.1" width="19.62" height="8.5" fill="#8c130c"/>
<rect x="485.44" y="173.1" width="19.62" height="6.5" fill="#8c130c"/>
<line x1="381.45" y1="179.6" x2="510.95" y2="179.6" stroke="#000" stroke-width="0.7" stroke-dasharray="2.2,0.9,0.6,0.9"/>
<rect x="381.45" y="134.4" width="129.5" height="90.4" fill="none" stroke="#2a2a2a" stroke-width="0.7"/>
<line x1="379.05" y1="134.4" x2="381.45" y2="134.4" stroke="#2a2a2a" stroke-width="0.6"/>
<text x="376.45" y="136.55" font-size="7.0" text-anchor="end" stroke="#111" stroke-width="0.18" >1.2</text>
<line x1="379.05" y1="149.47" x2="381.45" y2="149.47" stroke="#2a2a2a" stroke-width="0.6"/>
<text x="376.45" y="151.62" font-size="7.0" text-anchor="end" stroke="#111" stroke-width="0.18" >0.8</text>
<line x1="379.05" y1="164.53" x2="381.45" y2="164.53" stroke="#2a2a2a" stroke-width="0.6"/>
<text x="376.45" y="166.68" font-size="7.0" text-anchor="end" stroke="#111" stroke-width="0.18" >0.4</text>
<line x1="379.05" y1="179.6" x2="381.45" y2="179.6" stroke="#2a2a2a" stroke-width="0.6"/>
<text x="376.45" y="181.75" font-size="7.0" text-anchor="end" stroke="#111" stroke-width="0.18" >0.0</text>
<line x1="379.05" y1="194.67" x2="381.45" y2="194.67" stroke="#2a2a2a" stroke-width="0.6"/>
<text x="376.45" y="196.82" font-size="7.0" text-anchor="end" stroke="#111" stroke-width="0.18" >−0.4</text>
<line x1="379.05" y1="209.73" x2="381.45" y2="209.73" stroke="#2a2a2a" stroke-width="0.6"/>
<text x="376.45" y="211.88" font-size="7.0" text-anchor="end" stroke="#111" stroke-width="0.18" >−0.8</text>
<line x1="379.05" y1="224.8" x2="381.45" y2="224.8" stroke="#2a2a2a" stroke-width="0.6"/>
<text x="376.45" y="226.95" font-size="7.0" text-anchor="end" stroke="#111" stroke-width="0.18" >−1.2</text>
<line x1="397.15" y1="224.8" x2="397.15" y2="227.2" stroke="#2a2a2a" stroke-width="0.6"/>
<text x="397.15" y="235.1" font-size="7.0" text-anchor="middle" stroke="#111" stroke-width="0.18" >Total</text>
<line x1="421.67" y1="224.8" x2="421.67" y2="227.2" stroke="#2a2a2a" stroke-width="0.6"/>
<text x="421.67" y="235.1" font-size="7.0" text-anchor="middle" stroke="#111" stroke-width="0.18" >VWS</text>
<line x1="446.2" y1="224.8" x2="446.2" y2="227.2" stroke="#2a2a2a" stroke-width="0.6"/>
<text x="446.2" y="235.1" font-size="7.0" text-anchor="middle" stroke="#111" stroke-width="0.18" >MZW</text>
<line x1="470.73" y1="224.8" x2="470.73" y2="227.2" stroke="#2a2a2a" stroke-width="0.6"/>
<text x="470.73" y="235.1" font-size="7.0" text-anchor="middle" stroke="#111" stroke-width="0.18" >Omega</text>
<line x1="495.25" y1="224.8" x2="495.25" y2="227.2" stroke="#2a2a2a" stroke-width="0.6"/>
<text x="495.25" y="235.1" font-size="7.0" text-anchor="middle" stroke="#111" stroke-width="0.18" >Vor</text>
<polygon points="397.75,137.1 398.33,138.89 400.22,138.9 398.7,140.01 399.28,141.8 397.75,140.7 396.22,141.8 396.8,140.01 395.27,138.9 397.16,138.89" fill="#8c1414" stroke="#8c1414" stroke-width="0.45" stroke-linejoin="miter"/>
<polygon points="422.27,137.1 422.86,138.89 424.75,138.9 423.22,140.01 423.8,141.8 422.27,140.7 420.75,141.8 421.32,140.01 419.8,138.9 421.69,138.89" fill="#8c1414" stroke="#8c1414" stroke-width="0.45" stroke-linejoin="miter"/>
<polygon points="446.8,137.1 447.39,138.89 449.27,138.9 447.75,140.01 448.33,141.8 446.8,140.7 445.27,141.8 445.85,140.01 444.33,138.9 446.21,138.89" fill="#8c1414" stroke="#8c1414" stroke-width="0.45" stroke-linejoin="miter"/>
<polygon points="471.33,137.1 471.91,138.89 473.8,138.9 472.28,140.01 472.85,141.8 471.33,140.7 469.8,141.8 470.38,140.01 468.85,138.9 470.74,138.89" fill="#8c1414" stroke="#8c1414" stroke-width="0.45" stroke-linejoin="miter"/>
<polygon points="495.85,137.1 496.44,138.89 498.33,138.9 496.8,140.01 497.38,141.8 495.85,140.7 494.32,141.8 494.9,140.01 493.38,138.9 495.27,138.89" fill="#8c1414" stroke="#8c1414" stroke-width="0.45" stroke-linejoin="miter"/>
<text x="554.6" y="130.3" font-size="8.45" text-anchor="start" stroke="#111" stroke-width="0.18" >(h)Area B-A</text>
<rect x="560.49" y="145.1" width="19.62" height="34.5" fill="#8c130c"/>
<rect x="585.01" y="165.6" width="19.62" height="14" fill="#8c130c"/>
<rect x="609.54" y="174.1" width="19.62" height="5.5" fill="#8c130c"/>
<rect x="634.07" y="170.4" width="19.62" height="9.2" fill="#8c130c"/>
<rect x="658.59" y="177.4" width="19.62" height="2.2" fill="#8c130c"/>
<line x1="554.6" y1="179.6" x2="684.1" y2="179.6" stroke="#000" stroke-width="0.7" stroke-dasharray="2.2,0.9,0.6,0.9"/>
<rect x="554.6" y="134.4" width="129.5" height="90.4" fill="none" stroke="#2a2a2a" stroke-width="0.7"/>
<line x1="552.2" y1="134.4" x2="554.6" y2="134.4" stroke="#2a2a2a" stroke-width="0.6"/>
<text x="549.6" y="136.55" font-size="7.0" text-anchor="end" stroke="#111" stroke-width="0.18" >2.1</text>
<line x1="552.2" y1="149.47" x2="554.6" y2="149.47" stroke="#2a2a2a" stroke-width="0.6"/>
<text x="549.6" y="151.62" font-size="7.0" text-anchor="end" stroke="#111" stroke-width="0.18" >1.4</text>
<line x1="552.2" y1="164.53" x2="554.6" y2="164.53" stroke="#2a2a2a" stroke-width="0.6"/>
<text x="549.6" y="166.68" font-size="7.0" text-anchor="end" stroke="#111" stroke-width="0.18" >0.7</text>
<line x1="552.2" y1="179.6" x2="554.6" y2="179.6" stroke="#2a2a2a" stroke-width="0.6"/>
<text x="549.6" y="181.75" font-size="7.0" text-anchor="end" stroke="#111" stroke-width="0.18" >0.0</text>
<line x1="552.2" y1="194.67" x2="554.6" y2="194.67" stroke="#2a2a2a" stroke-width="0.6"/>
<text x="549.6" y="196.82" font-size="7.0" text-anchor="end" stroke="#111" stroke-width="0.18" >−0.7</text>
<line x1="552.2" y1="209.73" x2="554.6" y2="209.73" stroke="#2a2a2a" stroke-width="0.6"/>
<text x="549.6" y="211.88" font-size="7.0" text-anchor="end" stroke="#111" stroke-width="0.18" >−1.4</text>
<line x1="552.2" y1="224.8" x2="554.6" y2="224.8" stroke="#2a2a2a" stroke-width="0.6"/>
<text x="549.6" y="226.95" font-size="7.0" text-anchor="end" stroke="#111" stroke-width="0.18" >−2.1</text>
<line x1="570.3" y1="224.8" x2="570.3" y2="227.2" stroke="#2a2a2a" stroke-width="0.6"/>
<text x="570.3" y="235.1" font-size="7.0" text-anchor="middle" stroke="#111" stroke-width="0.18" >Total</text>
<line x1="594.82" y1="224.8" x2="594.82" y2="227.2" stroke="#2a2a2a" stroke-width="0.6"/>
<text x="594.82" y="235.1" font-size="7.0" text-anchor="middle" stroke="#111" stroke-width="0.18" >VWS</text>
<line x1="619.35" y1="224.8" x2="619.35" y2="227.2" stroke="#2a2a2a" stroke-width="0.6"/>
<text x="619.35" y="235.1" font-size="7.0" text-anchor="middle" stroke="#111" stroke-width="0.18" >MZW</text>
<line x1="643.88" y1="224.8" x2="643.88" y2="227.2" stroke="#2a2a2a" stroke-width="0.6"/>
<text x="643.88" y="235.1" font-size="7.0" text-anchor="middle" stroke="#111" stroke-width="0.18" >Omega</text>
<line x1="668.4" y1="224.8" x2="668.4" y2="227.2" stroke="#2a2a2a" stroke-width="0.6"/>
<text x="668.4" y="235.1" font-size="7.0" text-anchor="middle" stroke="#111" stroke-width="0.18" >Vor</text>
<polygon points="570.9,136.4 571.48,138.19 573.37,138.2 571.85,139.31 572.43,141.1 570.9,140 569.37,141.1 569.95,139.31 568.42,138.2 570.31,138.19" fill="#8c1414" stroke="#8c1414" stroke-width="0.45" stroke-linejoin="miter"/>
<polygon points="595.42,136.4 596.01,138.19 597.9,138.2 596.37,139.31 596.95,141.1 595.42,140 593.9,141.1 594.47,139.31 592.95,138.2 594.84,138.19" fill="#8c1414" stroke="#8c1414" stroke-width="0.45" stroke-linejoin="miter"/>
<polygon points="619.95,136.4 620.54,138.19 622.42,138.2 620.9,139.31 621.48,141.1 619.95,140 618.42,141.1 619,139.31 617.48,138.2 619.36,138.19" fill="#8c1414" stroke="#8c1414" stroke-width="0.45" stroke-linejoin="miter"/>
<polygon points="644.48,136.4 645.06,138.19 646.95,138.2 645.43,139.31 646,141.1 644.48,140 642.95,141.1 643.53,139.31 642,138.2 643.89,138.19" fill="#8c1414" stroke="#8c1414" stroke-width="0.45" stroke-linejoin="miter"/>
<polygon points="669,136.4 669.59,138.19 671.48,138.2 669.95,139.31 670.53,141.1 669,140 667.47,141.1 668.05,139.31 666.53,138.2 668.42,138.19" fill="#8c1414" stroke="#8c1414" stroke-width="0.45" stroke-linejoin="miter"/>
<text x="208.3" y="253.7" font-size="8.45" text-anchor="start" stroke="#111" stroke-width="0.18" >(j)Area A</text>
<rect x="214.19" y="303" width="19.62" height="41" fill="#1400a2"/>
<rect x="238.71" y="303" width="19.62" height="12.8" fill="#1400a2"/>
<rect x="263.24" y="303" width="19.62" height="3.5" fill="#1400a2"/>
<rect x="287.77" y="303" width="19.62" height="16.5" fill="#1400a2"/>
<rect x="312.29" y="303" width="19.62" height="9.8" fill="#1400a2"/>
<line x1="208.3" y1="303" x2="337.8" y2="303" stroke="#000" stroke-width="0.7" stroke-dasharray="2.2,0.9,0.6,0.9"/>
<rect x="208.3" y="257.8" width="129.5" height="90.4" fill="none" stroke="#2a2a2a" stroke-width="0.7"/>
<line x1="205.9" y1="257.8" x2="208.3" y2="257.8" stroke="#2a2a2a" stroke-width="0.6"/>
<text x="203.3" y="259.95" font-size="7.0" text-anchor="end" stroke="#111" stroke-width="0.18" >1.2</text>
<line x1="205.9" y1="272.87" x2="208.3" y2="272.87" stroke="#2a2a2a" stroke-width="0.6"/>
<text x="203.3" y="275.02" font-size="7.0" text-anchor="end" stroke="#111" stroke-width="0.18" >0.8</text>
<line x1="205.9" y1="287.93" x2="208.3" y2="287.93" stroke="#2a2a2a" stroke-width="0.6"/>
<text x="203.3" y="290.08" font-size="7.0" text-anchor="end" stroke="#111" stroke-width="0.18" >0.4</text>
<line x1="205.9" y1="303" x2="208.3" y2="303" stroke="#2a2a2a" stroke-width="0.6"/>
<text x="203.3" y="305.15" font-size="7.0" text-anchor="end" stroke="#111" stroke-width="0.18" >0.0</text>
<line x1="205.9" y1="318.07" x2="208.3" y2="318.07" stroke="#2a2a2a" stroke-width="0.6"/>
<text x="203.3" y="320.22" font-size="7.0" text-anchor="end" stroke="#111" stroke-width="0.18" >−0.4</text>
<line x1="205.9" y1="333.13" x2="208.3" y2="333.13" stroke="#2a2a2a" stroke-width="0.6"/>
<text x="203.3" y="335.28" font-size="7.0" text-anchor="end" stroke="#111" stroke-width="0.18" >−0.8</text>
<line x1="205.9" y1="348.2" x2="208.3" y2="348.2" stroke="#2a2a2a" stroke-width="0.6"/>
<text x="203.3" y="350.35" font-size="7.0" text-anchor="end" stroke="#111" stroke-width="0.18" >−1.2</text>
<line x1="224" y1="348.2" x2="224" y2="350.6" stroke="#2a2a2a" stroke-width="0.6"/>
<text x="224" y="358.5" font-size="7.0" text-anchor="middle" stroke="#111" stroke-width="0.18" >Total</text>
<line x1="248.52" y1="348.2" x2="248.52" y2="350.6" stroke="#2a2a2a" stroke-width="0.6"/>
<text x="248.52" y="358.5" font-size="7.0" text-anchor="middle" stroke="#111" stroke-width="0.18" >VWS</text>
<line x1="273.05" y1="348.2" x2="273.05" y2="350.6" stroke="#2a2a2a" stroke-width="0.6"/>
<text x="273.05" y="358.5" font-size="7.0" text-anchor="middle" stroke="#111" stroke-width="0.18" >MZW</text>
<line x1="297.58" y1="348.2" x2="297.58" y2="350.6" stroke="#2a2a2a" stroke-width="0.6"/>
<text x="297.58" y="358.5" font-size="7.0" text-anchor="middle" stroke="#111" stroke-width="0.18" >Omega</text>
<line x1="322.1" y1="348.2" x2="322.1" y2="350.6" stroke="#2a2a2a" stroke-width="0.6"/>
<text x="322.1" y="358.5" font-size="7.0" text-anchor="middle" stroke="#111" stroke-width="0.18" >Vor</text>
<polygon points="224.6,260.6 225.18,262.39 227.07,262.4 225.55,263.51 226.13,265.3 224.6,264.2 223.07,265.3 223.65,263.51 222.12,262.4 224.01,262.39" fill="#8c1414" stroke="#8c1414" stroke-width="0.45" stroke-linejoin="miter"/>
<polygon points="249.12,260.6 249.71,262.39 251.6,262.4 250.07,263.51 250.65,265.3 249.12,264.2 247.6,265.3 248.17,263.51 246.65,262.4 248.54,262.39" fill="#8c1414" stroke="#8c1414" stroke-width="0.45" stroke-linejoin="miter"/>
<polygon points="298.18,260.6 298.76,262.39 300.65,262.4 299.13,263.51 299.7,265.3 298.18,264.2 296.65,265.3 297.23,263.51 295.7,262.4 297.59,262.39" fill="#8c1414" stroke="#8c1414" stroke-width="0.45" stroke-linejoin="miter"/>
<polygon points="322.7,260.6 323.29,262.39 325.18,262.4 323.65,263.51 324.23,265.3 322.7,264.2 321.17,265.3 321.75,263.51 320.23,262.4 322.12,262.39" fill="#8c1414" stroke="#8c1414" stroke-width="0.45" stroke-linejoin="miter"/>
<text x="381.45" y="253.7" font-size="8.45" text-anchor="start" stroke="#111" stroke-width="0.18" >(k)Area B</text>
<rect x="387.34" y="273.4" width="19.62" height="29.6" fill="#8c130c"/>
<rect x="411.86" y="303" width="19.62" height="2.9" fill="#1400a2"/>
<rect x="436.39" y="292.4" width="19.62" height="10.6" fill="#8c130c"/>
<rect x="460.92" y="287.1" width="19.62" height="15.9" fill="#8c130c"/>
<rect x="485.44" y="297.1" width="19.62" height="5.9" fill="#8c130c"/>
<line x1="381.45" y1="303" x2="510.95" y2="303" stroke="#000" stroke-width="0.7" stroke-dasharray="2.2,0.9,0.6,0.9"/>
<rect x="381.45" y="257.8" width="129.5" height="90.4" fill="none" stroke="#2a2a2a" stroke-width="0.7"/>
<line x1="379.05" y1="257.8" x2="381.45" y2="257.8" stroke="#2a2a2a" stroke-width="0.6"/>
<text x="376.45" y="259.95" font-size="7.0" text-anchor="end" stroke="#111" stroke-width="0.18" >0.6</text>
<line x1="379.05" y1="272.87" x2="381.45" y2="272.87" stroke="#2a2a2a" stroke-width="0.6"/>
<text x="376.45" y="275.02" font-size="7.0" text-anchor="end" stroke="#111" stroke-width="0.18" >0.4</text>
<line x1="379.05" y1="287.93" x2="381.45" y2="287.93" stroke="#2a2a2a" stroke-width="0.6"/>
<text x="376.45" y="290.08" font-size="7.0" text-anchor="end" stroke="#111" stroke-width="0.18" >0.2</text>
<line x1="379.05" y1="303" x2="381.45" y2="303" stroke="#2a2a2a" stroke-width="0.6"/>
<text x="376.45" y="305.15" font-size="7.0" text-anchor="end" stroke="#111" stroke-width="0.18" >0.0</text>
<line x1="379.05" y1="318.07" x2="381.45" y2="318.07" stroke="#2a2a2a" stroke-width="0.6"/>
<text x="376.45" y="320.22" font-size="7.0" text-anchor="end" stroke="#111" stroke-width="0.18" >−0.2</text>
<line x1="379.05" y1="333.13" x2="381.45" y2="333.13" stroke="#2a2a2a" stroke-width="0.6"/>
<text x="376.45" y="335.28" font-size="7.0" text-anchor="end" stroke="#111" stroke-width="0.18" >−0.4</text>
<line x1="379.05" y1="348.2" x2="381.45" y2="348.2" stroke="#2a2a2a" stroke-width="0.6"/>
<text x="376.45" y="350.35" font-size="7.0" text-anchor="end" stroke="#111" stroke-width="0.18" >−0.6</text>
<line x1="397.15" y1="348.2" x2="397.15" y2="350.6" stroke="#2a2a2a" stroke-width="0.6"/>
<text x="397.15" y="358.5" font-size="7.0" text-anchor="middle" stroke="#111" stroke-width="0.18" >Total</text>
<line x1="421.67" y1="348.2" x2="421.67" y2="350.6" stroke="#2a2a2a" stroke-width="0.6"/>
<text x="421.67" y="358.5" font-size="7.0" text-anchor="middle" stroke="#111" stroke-width="0.18" >VWS</text>
<line x1="446.2" y1="348.2" x2="446.2" y2="350.6" stroke="#2a2a2a" stroke-width="0.6"/>
<text x="446.2" y="358.5" font-size="7.0" text-anchor="middle" stroke="#111" stroke-width="0.18" >MZW</text>
<line x1="470.73" y1="348.2" x2="470.73" y2="350.6" stroke="#2a2a2a" stroke-width="0.6"/>
<text x="470.73" y="358.5" font-size="7.0" text-anchor="middle" stroke="#111" stroke-width="0.18" >Omega</text>
<line x1="495.25" y1="348.2" x2="495.25" y2="350.6" stroke="#2a2a2a" stroke-width="0.6"/>
<text x="495.25" y="358.5" font-size="7.0" text-anchor="middle" stroke="#111" stroke-width="0.18" >Vor</text>
<polygon points="397.75,260.6 398.33,262.39 400.22,262.4 398.7,263.51 399.28,265.3 397.75,264.2 396.22,265.3 396.8,263.51 395.27,262.4 397.16,262.39" fill="#8c1414" stroke="#8c1414" stroke-width="0.45" stroke-linejoin="miter"/>
<polygon points="446.8,260.6 447.39,262.39 449.27,262.4 447.75,263.51 448.33,265.3 446.8,264.2 445.27,265.3 445.85,263.51 444.33,262.4 446.21,262.39" fill="#8c1414" stroke="#8c1414" stroke-width="0.45" stroke-linejoin="miter"/>
<polygon points="471.33,260.6 471.91,262.39 473.8,262.4 472.28,263.51 472.85,265.3 471.33,264.2 469.8,265.3 470.38,263.51 468.85,262.4 470.74,262.39" fill="#8c1414" stroke="#8c1414" stroke-width="0.45" stroke-linejoin="miter"/>
<polygon points="495.85,260.6 496.44,262.39 498.33,262.4 496.8,263.51 497.38,265.3 495.85,264.2 494.32,265.3 494.9,263.51 493.38,262.4 495.27,262.39" fill="#8c1414" stroke="#8c1414" stroke-width="0.45" stroke-linejoin="miter"/>
<text x="554.6" y="253.7" font-size="8.45" text-anchor="start" stroke="#111" stroke-width="0.18" >(l)Area B-A</text>
<rect x="560.49" y="265.1" width="19.62" height="37.9" fill="#8c130c"/>
<rect x="585.01" y="294.9" width="19.62" height="8.1" fill="#8c130c"/>
<rect x="609.54" y="296.9" width="19.62" height="6.1" fill="#8c130c"/>
<rect x="634.07" y="286.6" width="19.62" height="16.4" fill="#8c130c"/>
<rect x="658.59" y="293.9" width="19.62" height="9.1" fill="#8c130c"/>
<line x1="554.6" y1="303" x2="684.1" y2="303" stroke="#000" stroke-width="0.7" stroke-dasharray="2.2,0.9,0.6,0.9"/>
<rect x="554.6" y="257.8" width="129.5" height="90.4" fill="none" stroke="#2a2a2a" stroke-width="0.7"/>
<line x1="552.2" y1="257.8" x2="554.6" y2="257.8" stroke="#2a2a2a" stroke-width="0.6"/>
<text x="549.6" y="259.95" font-size="7.0" text-anchor="end" stroke="#111" stroke-width="0.18" >1.8</text>
<line x1="552.2" y1="272.87" x2="554.6" y2="272.87" stroke="#2a2a2a" stroke-width="0.6"/>
<text x="549.6" y="275.02" font-size="7.0" text-anchor="end" stroke="#111" stroke-width="0.18" >1.2</text>
<line x1="552.2" y1="287.93" x2="554.6" y2="287.93" stroke="#2a2a2a" stroke-width="0.6"/>
<text x="549.6" y="290.08" font-size="7.0" text-anchor="end" stroke="#111" stroke-width="0.18" >0.6</text>
<line x1="552.2" y1="303" x2="554.6" y2="303" stroke="#2a2a2a" stroke-width="0.6"/>
<text x="549.6" y="305.15" font-size="7.0" text-anchor="end" stroke="#111" stroke-width="0.18" >0.0</text>
<line x1="552.2" y1="318.07" x2="554.6" y2="318.07" stroke="#2a2a2a" stroke-width="0.6"/>
<text x="549.6" y="320.22" font-size="7.0" text-anchor="end" stroke="#111" stroke-width="0.18" >−0.6</text>
<line x1="552.2" y1="333.13" x2="554.6" y2="333.13" stroke="#2a2a2a" stroke-width="0.6"/>
<text x="549.6" y="335.28" font-size="7.0" text-anchor="end" stroke="#111" stroke-width="0.18" >−1.2</text>
<line x1="552.2" y1="348.2" x2="554.6" y2="348.2" stroke="#2a2a2a" stroke-width="0.6"/>
<text x="549.6" y="350.35" font-size="7.0" text-anchor="end" stroke="#111" stroke-width="0.18" >−1.8</text>
<line x1="570.3" y1="348.2" x2="570.3" y2="350.6" stroke="#2a2a2a" stroke-width="0.6"/>
<text x="570.3" y="358.5" font-size="7.0" text-anchor="middle" stroke="#111" stroke-width="0.18" >Total</text>
<line x1="594.82" y1="348.2" x2="594.82" y2="350.6" stroke="#2a2a2a" stroke-width="0.6"/>
<text x="594.82" y="358.5" font-size="7.0" text-anchor="middle" stroke="#111" stroke-width="0.18" >VWS</text>
<line x1="619.35" y1="348.2" x2="619.35" y2="350.6" stroke="#2a2a2a" stroke-width="0.6"/>
<text x="619.35" y="358.5" font-size="7.0" text-anchor="middle" stroke="#111" stroke-width="0.18" >MZW</text>
<line x1="643.88" y1="348.2" x2="643.88" y2="350.6" stroke="#2a2a2a" stroke-width="0.6"/>
<text x="643.88" y="358.5" font-size="7.0" text-anchor="middle" stroke="#111" stroke-width="0.18" >Omega</text>
<line x1="668.4" y1="348.2" x2="668.4" y2="350.6" stroke="#2a2a2a" stroke-width="0.6"/>
<text x="668.4" y="358.5" font-size="7.0" text-anchor="middle" stroke="#111" stroke-width="0.18" >Vor</text>
<polygon points="570.9,259.5 571.48,261.29 573.37,261.3 571.85,262.41 572.43,264.2 570.9,263.1 569.37,264.2 569.95,262.41 568.42,261.3 570.31,261.29" fill="#8c1414" stroke="#8c1414" stroke-width="0.45" stroke-linejoin="miter"/>
<polygon points="595.42,259.5 596.01,261.29 597.9,261.3 596.37,262.41 596.95,264.2 595.42,263.1 593.9,264.2 594.47,262.41 592.95,261.3 594.84,261.29" fill="#8c1414" stroke="#8c1414" stroke-width="0.45" stroke-linejoin="miter"/>
<polygon points="644.48,259.5 645.06,261.29 646.95,261.3 645.43,262.41 646,264.2 644.48,263.1 642.95,264.2 643.53,262.41 642,261.3 643.89,261.29" fill="#8c1414" stroke="#8c1414" stroke-width="0.45" stroke-linejoin="miter"/>
<polygon points="669,259.5 669.59,261.29 671.48,261.3 669.95,262.41 670.53,264.2 669,263.1 667.47,264.2 668.05,262.41 666.53,261.3 668.42,261.29" fill="#8c1414" stroke="#8c1414" stroke-width="0.45" stroke-linejoin="miter"/>
<polygon points="27.1,368.7 20.4,372.35 27.1,376" fill="#053061"/>
<polygon points="158.2,368.7 165,372.35 158.2,376" fill="#67001f"/>
<rect x="26.9" y="368.7" width="11.26" height="7.3" fill="#1b5a9b"/>
<rect x="37.86" y="368.7" width="11.26" height="7.3" fill="#337eb8"/>
<rect x="48.82" y="368.7" width="11.26" height="7.3" fill="#5ba2cb"/>
<rect x="59.77" y="368.7" width="11.26" height="7.3" fill="#97c8df"/>
<rect x="70.73" y="368.7" width="11.26" height="7.3" fill="#c7e0ed"/>
<rect x="81.69" y="368.7" width="11.26" height="7.3" fill="#e8f0f4"/>
<rect x="92.65" y="368.7" width="11.26" height="7.3" fill="#f9ece4"/>
<rect x="103.61" y="368.7" width="11.26" height="7.3" fill="#fbd3bc"/>
<rect x="114.57" y="368.7" width="11.26" height="7.3" fill="#f5a988"/>
<rect x="125.53" y="368.7" width="11.26" height="7.3" fill="#df755d"/>
<rect x="136.48" y="368.7" width="11.26" height="7.3" fill="#c53f3d"/>
<rect x="147.44" y="368.7" width="10.96" height="7.3" fill="#a11228"/>
<polygon points="26.9,368.7 158.4,368.7 165,372.35 158.4,376 26.9,376 20.4,372.35" fill="none" stroke="#2a2a2a" stroke-width="0.6"/>
<line x1="26.9" y1="376" x2="26.9" y2="378.2" stroke="#2a2a2a" stroke-width="0.6"/>
<text x="26.9" y="386.6" font-size="7.0" text-anchor="middle" stroke="#111" stroke-width="0.18" >−1.5</text>
<line x1="48.82" y1="376" x2="48.82" y2="378.2" stroke="#2a2a2a" stroke-width="0.6"/>
<text x="48.82" y="386.6" font-size="7.0" text-anchor="middle" stroke="#111" stroke-width="0.18" >−1.0</text>
<line x1="70.73" y1="376" x2="70.73" y2="378.2" stroke="#2a2a2a" stroke-width="0.6"/>
<text x="70.73" y="386.6" font-size="7.0" text-anchor="middle" stroke="#111" stroke-width="0.18" >−0.5</text>
<line x1="92.65" y1="376" x2="92.65" y2="378.2" stroke="#2a2a2a" stroke-width="0.6"/>
<text x="92.65" y="386.6" font-size="7.0" text-anchor="middle" stroke="#111" stroke-width="0.18" >0.0</text>
<line x1="114.57" y1="376" x2="114.57" y2="378.2" stroke="#2a2a2a" stroke-width="0.6"/>
<text x="114.57" y="386.6" font-size="7.0" text-anchor="middle" stroke="#111" stroke-width="0.18" >0.5</text>
<line x1="136.48" y1="376" x2="136.48" y2="378.2" stroke="#2a2a2a" stroke-width="0.6"/>
<text x="136.48" y="386.6" font-size="7.0" text-anchor="middle" stroke="#111" stroke-width="0.18" >1.0</text>
<line x1="158.4" y1="376" x2="158.4" y2="378.2" stroke="#2a2a2a" stroke-width="0.6"/>
<text x="158.4" y="386.6" font-size="7.0" text-anchor="middle" stroke="#111" stroke-width="0.18" >1.5</text>
</svg>
</body></html>
